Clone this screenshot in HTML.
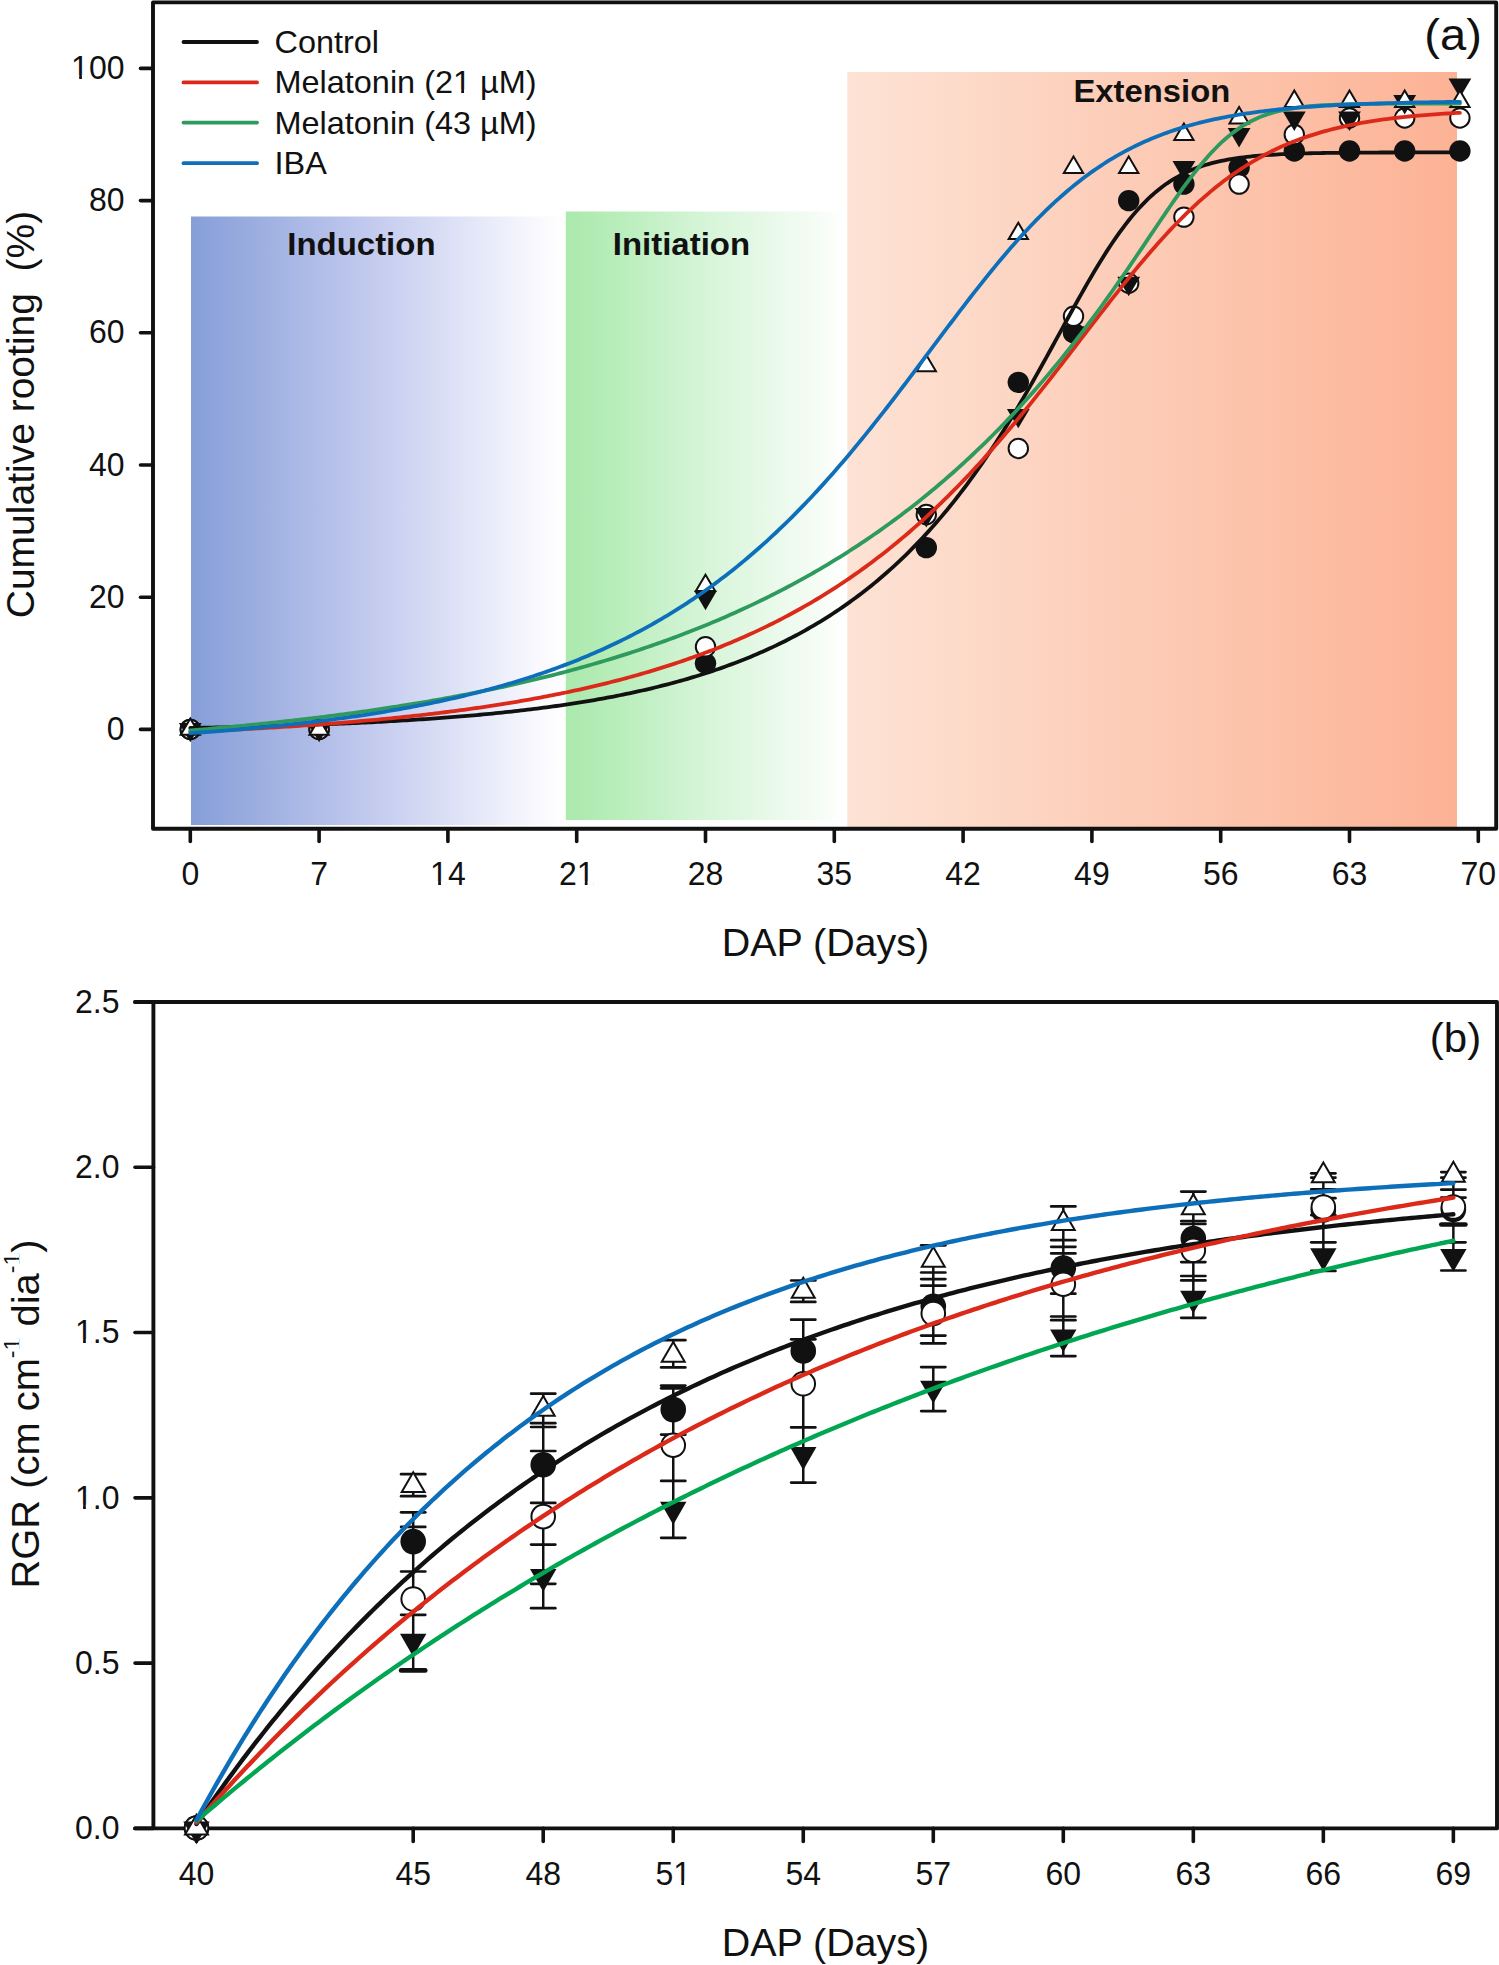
<!DOCTYPE html>
<html><head><meta charset="utf-8"><title>Cumulative rooting and RGR chart</title>
<style>
html,body{margin:0;padding:0;background:#fff;}
body{width:1499px;height:1965px;overflow:hidden;}
svg{display:block;}
text{font-family:"Liberation Sans", sans-serif;fill:#111;}
</style></head><body>
<svg width="1499" height="1965" viewBox="0 0 1499 1965">
<rect width="1499" height="1965" fill="#fff"/>
<defs>
<linearGradient id="gBlue" x1="0" x2="1" y1="0" y2="0"><stop offset="0" stop-color="#869ed8"/><stop offset="0.5" stop-color="#c5ccef"/><stop offset="0.94" stop-color="#fafafe"/><stop offset="1" stop-color="#ffffff"/></linearGradient>
<linearGradient id="gGreen" x1="0" x2="1" y1="0" y2="0"><stop offset="0" stop-color="#abe9ad"/><stop offset="0.12" stop-color="#b3ecb5"/><stop offset="0.5" stop-color="#d6f5d8"/><stop offset="0.9" stop-color="#f5fcf5"/><stop offset="1" stop-color="#ffffff"/></linearGradient>
<linearGradient id="gExt" x1="0" x2="1" y1="0" y2="0"><stop offset="0" stop-color="#fde3d5"/><stop offset="1" stop-color="#fcb295"/></linearGradient>
</defs>
<rect x="191" y="216.5" width="374" height="608.5" fill="url(#gBlue)"/>
<rect x="565.8" y="211.5" width="279" height="608.5" fill="url(#gGreen)"/>
<rect x="847.3" y="72" width="609.7" height="755" fill="url(#gExt)"/>
<g transform="translate(287.30,255.00) scale(1.03,1)"><text font-size="32" font-weight="bold">Induction</text></g>
<g transform="translate(612.80,254.70) scale(1.03,1)"><text font-size="32" font-weight="bold">Initiation</text></g>
<g transform="translate(1073.50,101.70) scale(1.025,1)"><text font-size="32" font-weight="bold">Extension</text></g>
<path d="M153.0,2.4 H1496.2 V828.7 H153.0 Z" fill="none" stroke="#111111" stroke-width="3.9" stroke-linejoin="round"/>
<line x1="140.5" y1="729.40" x2="153.0" y2="729.40" stroke="#111111" stroke-width="3.6" stroke-linecap="round"/>
<g transform="translate(124.50,740.00) scale(0.97,1)"><text text-anchor="end" font-size="33">0</text></g>
<line x1="140.5" y1="597.20" x2="153.0" y2="597.20" stroke="#111111" stroke-width="3.6" stroke-linecap="round"/>
<g transform="translate(124.50,607.80) scale(0.97,1)"><text text-anchor="end" font-size="33">20</text></g>
<line x1="140.5" y1="465.00" x2="153.0" y2="465.00" stroke="#111111" stroke-width="3.6" stroke-linecap="round"/>
<g transform="translate(124.50,475.60) scale(0.97,1)"><text text-anchor="end" font-size="33">40</text></g>
<line x1="140.5" y1="332.80" x2="153.0" y2="332.80" stroke="#111111" stroke-width="3.6" stroke-linecap="round"/>
<g transform="translate(124.50,343.40) scale(0.97,1)"><text text-anchor="end" font-size="33">60</text></g>
<line x1="140.5" y1="200.60" x2="153.0" y2="200.60" stroke="#111111" stroke-width="3.6" stroke-linecap="round"/>
<g transform="translate(124.50,211.20) scale(0.97,1)"><text text-anchor="end" font-size="33">80</text></g>
<line x1="140.5" y1="68.40" x2="153.0" y2="68.40" stroke="#111111" stroke-width="3.6" stroke-linecap="round"/>
<g transform="translate(124.50,79.00) scale(0.97,1)"><text text-anchor="end" font-size="33">100</text><rect x="-53.08" y="-3.96" width="6.35" height="4.62" fill="#fff"/><rect x="-43.87" y="-3.96" width="6.14" height="4.62" fill="#fff"/></g>
<line x1="190.30" y1="828.7" x2="190.30" y2="841.5" stroke="#111111" stroke-width="3.6" stroke-linecap="round"/>
<g transform="translate(190.30,885.30) scale(0.97,1)"><text text-anchor="middle" font-size="33">0</text></g>
<line x1="319.10" y1="828.7" x2="319.10" y2="841.5" stroke="#111111" stroke-width="3.6" stroke-linecap="round"/>
<g transform="translate(319.10,885.30) scale(0.97,1)"><text text-anchor="middle" font-size="33">7</text></g>
<line x1="447.90" y1="828.7" x2="447.90" y2="841.5" stroke="#111111" stroke-width="3.6" stroke-linecap="round"/>
<g transform="translate(447.90,885.30) scale(0.97,1)"><text text-anchor="middle" font-size="33">14</text><rect x="-16.37" y="-3.96" width="6.35" height="4.62" fill="#fff"/><rect x="-7.17" y="-3.96" width="6.14" height="4.62" fill="#fff"/></g>
<line x1="576.70" y1="828.7" x2="576.70" y2="841.5" stroke="#111111" stroke-width="3.6" stroke-linecap="round"/>
<g transform="translate(576.70,885.30) scale(0.97,1)"><text text-anchor="middle" font-size="33">21</text><rect x="1.98" y="-3.96" width="6.35" height="4.62" fill="#fff"/><rect x="11.19" y="-3.96" width="6.14" height="4.62" fill="#fff"/></g>
<line x1="705.50" y1="828.7" x2="705.50" y2="841.5" stroke="#111111" stroke-width="3.6" stroke-linecap="round"/>
<g transform="translate(705.50,885.30) scale(0.97,1)"><text text-anchor="middle" font-size="33">28</text></g>
<line x1="834.30" y1="828.7" x2="834.30" y2="841.5" stroke="#111111" stroke-width="3.6" stroke-linecap="round"/>
<g transform="translate(834.30,885.30) scale(0.97,1)"><text text-anchor="middle" font-size="33">35</text></g>
<line x1="963.10" y1="828.7" x2="963.10" y2="841.5" stroke="#111111" stroke-width="3.6" stroke-linecap="round"/>
<g transform="translate(963.10,885.30) scale(0.97,1)"><text text-anchor="middle" font-size="33">42</text></g>
<line x1="1091.90" y1="828.7" x2="1091.90" y2="841.5" stroke="#111111" stroke-width="3.6" stroke-linecap="round"/>
<g transform="translate(1091.90,885.30) scale(0.97,1)"><text text-anchor="middle" font-size="33">49</text></g>
<line x1="1220.70" y1="828.7" x2="1220.70" y2="841.5" stroke="#111111" stroke-width="3.6" stroke-linecap="round"/>
<g transform="translate(1220.70,885.30) scale(0.97,1)"><text text-anchor="middle" font-size="33">56</text></g>
<line x1="1349.50" y1="828.7" x2="1349.50" y2="841.5" stroke="#111111" stroke-width="3.6" stroke-linecap="round"/>
<g transform="translate(1349.50,885.30) scale(0.97,1)"><text text-anchor="middle" font-size="33">63</text></g>
<line x1="1478.30" y1="828.7" x2="1478.30" y2="841.5" stroke="#111111" stroke-width="3.6" stroke-linecap="round"/>
<g transform="translate(1478.30,885.30) scale(0.97,1)"><text text-anchor="middle" font-size="33">70</text></g>
<g transform="translate(825.40,956.00) scale(1.025,1)"><text text-anchor="middle" font-size="38.5">DAP (Days)</text></g>
<g transform="translate(34.20,414.50) rotate(-90)"><text text-anchor="middle" font-size="39">Cumulative rooting&#160;&#160;(%)</text></g>
<g transform="translate(1424.30,50.00) scale(1.07,1)"><text font-size="44">(a)</text></g>
<line x1="183.5" y1="42.0" x2="257" y2="42.0" stroke="#111111" stroke-width="3.8" stroke-linecap="round"/>
<g transform="translate(274.50,53.00) scale(1.03,1)"><text font-size="31.5">Control</text></g>
<line x1="183.5" y1="82.4" x2="257" y2="82.4" stroke="#dc2a1a" stroke-width="3.8" stroke-linecap="round"/>
<g transform="translate(274.50,93.40) scale(1.03,1)"><text font-size="31.5">Melatonin (21 µM)</text><rect x="175.23" y="-3.78" width="6.06" height="4.41" fill="#fff"/><rect x="184.02" y="-3.78" width="5.86" height="4.41" fill="#fff"/></g>
<line x1="183.5" y1="122.6" x2="257" y2="122.6" stroke="#2f9a5d" stroke-width="3.8" stroke-linecap="round"/>
<g transform="translate(274.50,133.60) scale(1.03,1)"><text font-size="31.5">Melatonin (43 µM)</text></g>
<line x1="183.5" y1="163.2" x2="257" y2="163.2" stroke="#0d6fba" stroke-width="3.8" stroke-linecap="round"/>
<g transform="translate(274.50,174.20) scale(1.03,1)"><text font-size="31.5">IBA</text></g>
<g><circle cx="190.30" cy="729.40" r="10.70" fill="#111111"/><circle cx="319.10" cy="729.40" r="10.70" fill="#111111"/><circle cx="705.50" cy="663.30" r="10.70" fill="#111111"/><circle cx="926.30" cy="547.62" r="10.70" fill="#111111"/><circle cx="1018.30" cy="382.37" r="10.70" fill="#111111"/><circle cx="1073.50" cy="332.80" r="10.70" fill="#111111"/><circle cx="1128.70" cy="200.60" r="10.70" fill="#111111"/><circle cx="1183.90" cy="184.07" r="10.70" fill="#111111"/><circle cx="1239.10" cy="167.55" r="10.70" fill="#111111"/><circle cx="1294.30" cy="151.02" r="10.70" fill="#111111"/><circle cx="1349.50" cy="151.02" r="10.70" fill="#111111"/><circle cx="1404.70" cy="151.02" r="10.70" fill="#111111"/><circle cx="1459.90" cy="151.02" r="10.70" fill="#111111"/><circle cx="190.30" cy="729.40" r="9.70" fill="#fff" stroke="#111111" stroke-width="2.0"/><circle cx="319.10" cy="729.40" r="9.70" fill="#fff" stroke="#111111" stroke-width="2.0"/><circle cx="705.50" cy="646.77" r="9.70" fill="#fff" stroke="#111111" stroke-width="2.0"/><circle cx="926.30" cy="514.57" r="9.70" fill="#fff" stroke="#111111" stroke-width="2.0"/><circle cx="1018.30" cy="448.47" r="9.70" fill="#fff" stroke="#111111" stroke-width="2.0"/><circle cx="1073.50" cy="316.27" r="9.70" fill="#fff" stroke="#111111" stroke-width="2.0"/><circle cx="1128.70" cy="283.22" r="9.70" fill="#fff" stroke="#111111" stroke-width="2.0"/><circle cx="1183.90" cy="217.12" r="9.70" fill="#fff" stroke="#111111" stroke-width="2.0"/><circle cx="1239.10" cy="184.07" r="9.70" fill="#fff" stroke="#111111" stroke-width="2.0"/><circle cx="1294.30" cy="134.50" r="9.70" fill="#fff" stroke="#111111" stroke-width="2.0"/><circle cx="1349.50" cy="117.97" r="9.70" fill="#fff" stroke="#111111" stroke-width="2.0"/><circle cx="1404.70" cy="117.97" r="9.70" fill="#fff" stroke="#111111" stroke-width="2.0"/><circle cx="1459.90" cy="117.97" r="9.70" fill="#fff" stroke="#111111" stroke-width="2.0"/><polygon points="190.30,742.33 201.70,722.93 178.90,722.93" fill="#111111"/><polygon points="319.10,742.33 330.50,722.93 307.70,722.93" fill="#111111"/><polygon points="705.50,610.13 716.90,590.73 694.10,590.73" fill="#111111"/><polygon points="926.30,527.51 937.70,508.11 914.90,508.11" fill="#111111"/><polygon points="1018.30,428.36 1029.70,408.96 1006.90,408.96" fill="#111111"/><polygon points="1073.50,345.73 1084.90,326.33 1062.10,326.33" fill="#111111"/><polygon points="1128.70,296.16 1140.10,276.76 1117.30,276.76" fill="#111111"/><polygon points="1183.90,180.48 1195.30,161.08 1172.50,161.08" fill="#111111"/><polygon points="1239.10,147.43 1250.50,128.03 1227.70,128.03" fill="#111111"/><polygon points="1294.30,130.91 1305.70,111.51 1282.90,111.51" fill="#111111"/><polygon points="1349.50,130.91 1360.90,111.51 1338.10,111.51" fill="#111111"/><polygon points="1404.70,114.38 1416.10,94.98 1393.30,94.98" fill="#111111"/><polygon points="1459.90,97.86 1471.30,78.46 1448.50,78.46" fill="#111111"/><polygon points="190.30,718.44 199.95,734.87 180.65,734.87" fill="#fff" stroke="#111111" stroke-width="2.0" stroke-linejoin="miter" stroke-miterlimit="10"/><polygon points="319.10,718.44 328.75,734.87 309.45,734.87" fill="#fff" stroke="#111111" stroke-width="2.0" stroke-linejoin="miter" stroke-miterlimit="10"/><polygon points="705.50,574.67 715.15,591.10 695.85,591.10" fill="#fff" stroke="#111111" stroke-width="2.0" stroke-linejoin="miter" stroke-miterlimit="10"/><polygon points="926.30,354.89 935.95,371.32 916.65,371.32" fill="#fff" stroke="#111111" stroke-width="2.0" stroke-linejoin="miter" stroke-miterlimit="10"/><polygon points="1018.30,222.69 1027.95,239.12 1008.65,239.12" fill="#fff" stroke="#111111" stroke-width="2.0" stroke-linejoin="miter" stroke-miterlimit="10"/><polygon points="1073.50,156.59 1083.15,173.02 1063.85,173.02" fill="#fff" stroke="#111111" stroke-width="2.0" stroke-linejoin="miter" stroke-miterlimit="10"/><polygon points="1128.70,156.59 1138.35,173.02 1119.05,173.02" fill="#fff" stroke="#111111" stroke-width="2.0" stroke-linejoin="miter" stroke-miterlimit="10"/><polygon points="1183.90,123.54 1193.55,139.97 1174.25,139.97" fill="#fff" stroke="#111111" stroke-width="2.0" stroke-linejoin="miter" stroke-miterlimit="10"/><polygon points="1239.10,107.02 1248.75,123.44 1229.45,123.44" fill="#fff" stroke="#111111" stroke-width="2.0" stroke-linejoin="miter" stroke-miterlimit="10"/><polygon points="1294.30,90.49 1303.95,106.92 1284.65,106.92" fill="#fff" stroke="#111111" stroke-width="2.0" stroke-linejoin="miter" stroke-miterlimit="10"/><polygon points="1349.50,90.49 1359.15,106.92 1339.85,106.92" fill="#fff" stroke="#111111" stroke-width="2.0" stroke-linejoin="miter" stroke-miterlimit="10"/><polygon points="1404.70,90.49 1414.35,106.92 1395.05,106.92" fill="#fff" stroke="#111111" stroke-width="2.0" stroke-linejoin="miter" stroke-miterlimit="10"/><polygon points="1459.90,90.49 1469.55,106.92 1450.25,106.92" fill="#fff" stroke="#111111" stroke-width="2.0" stroke-linejoin="miter" stroke-miterlimit="10"/></g>
<path d="M190.30,728.00 L193.48,727.94 L196.66,727.88 L199.85,727.82 L203.03,727.75 L206.21,727.69 L209.39,727.63 L212.57,727.56 L215.76,727.49 L218.94,727.43 L222.12,727.36 L225.30,727.29 L228.48,727.21 L231.67,727.14 L234.85,727.07 L238.03,726.99 L241.21,726.91 L244.39,726.83 L247.58,726.75 L250.76,726.67 L253.94,726.59 L257.12,726.51 L260.30,726.42 L263.48,726.33 L266.67,726.24 L269.85,726.15 L273.03,726.06 L276.21,725.97 L279.39,725.87 L282.58,725.78 L285.76,725.68 L288.94,725.58 L292.12,725.47 L295.30,725.37 L298.49,725.26 L301.67,725.16 L304.85,725.05 L308.03,724.94 L311.21,724.82 L314.40,724.71 L317.58,724.59 L320.76,724.47 L323.94,724.35 L327.12,724.22 L330.31,724.10 L333.49,723.97 L336.67,723.84 L339.85,723.70 L343.03,723.57 L346.22,723.43 L349.40,723.29 L352.58,723.14 L355.76,723.00 L358.94,722.85 L362.13,722.70 L365.31,722.55 L368.49,722.39 L371.67,722.23 L374.85,722.07 L378.04,721.90 L381.22,721.74 L384.40,721.57 L387.58,721.39 L390.76,721.21 L393.95,721.03 L397.13,720.85 L400.31,720.66 L403.49,720.47 L406.67,720.28 L409.85,720.08 L413.04,719.88 L416.22,719.68 L419.40,719.47 L422.58,719.26 L425.76,719.05 L428.95,718.83 L432.13,718.61 L435.31,718.38 L438.49,718.15 L441.67,717.91 L444.86,717.68 L448.04,717.43 L451.22,717.18 L454.40,716.93 L457.58,716.68 L460.77,716.42 L463.95,716.15 L467.13,715.88 L470.31,715.60 L473.49,715.32 L476.68,715.04 L479.86,714.75 L483.04,714.45 L486.22,714.15 L489.40,713.85 L492.59,713.53 L495.77,713.22 L498.95,712.90 L502.13,712.57 L505.31,712.23 L508.50,711.89 L511.68,711.55 L514.86,711.19 L518.04,710.83 L521.22,710.47 L524.41,710.10 L527.59,709.72 L530.77,709.33 L533.95,708.94 L537.13,708.54 L540.32,708.14 L543.50,707.72 L546.68,707.30 L549.86,706.88 L553.04,706.44 L556.22,706.00 L559.41,705.54 L562.59,705.09 L565.77,704.62 L568.95,704.14 L572.13,703.66 L575.32,703.16 L578.50,702.66 L581.68,702.15 L584.86,701.63 L588.04,701.10 L591.23,700.56 L594.41,700.01 L597.59,699.46 L600.77,698.89 L603.95,698.31 L607.14,697.72 L610.32,697.12 L613.50,696.51 L616.68,695.89 L619.86,695.26 L623.05,694.62 L626.23,693.96 L629.41,693.30 L632.59,692.62 L635.77,691.93 L638.96,691.23 L642.14,690.51 L645.32,689.78 L648.50,689.04 L651.68,688.29 L654.87,687.52 L658.05,686.74 L661.23,685.95 L664.41,685.14 L667.59,684.32 L670.78,683.48 L673.96,682.62 L677.14,681.76 L680.32,680.87 L683.50,679.97 L686.68,679.06 L689.87,678.13 L693.05,677.18 L696.23,676.21 L699.41,675.23 L702.59,674.23 L705.78,673.21 L708.96,672.17 L712.14,671.12 L715.32,670.05 L718.50,668.95 L721.69,667.84 L724.87,666.71 L728.05,665.56 L731.23,664.39 L734.41,663.19 L737.60,661.98 L740.78,660.74 L743.96,659.48 L747.14,658.20 L750.32,656.90 L753.51,655.57 L756.69,654.22 L759.87,652.85 L763.05,651.45 L766.23,650.02 L769.42,648.57 L772.60,647.10 L775.78,645.60 L778.96,644.07 L782.14,642.51 L785.33,640.93 L788.51,639.32 L791.69,637.68 L794.87,636.01 L798.05,634.31 L801.24,632.58 L804.42,630.82 L807.60,629.03 L810.78,627.21 L813.96,625.35 L817.15,623.46 L820.33,621.54 L823.51,619.58 L826.69,617.59 L829.87,615.56 L833.05,613.50 L836.24,611.40 L839.42,609.27 L842.60,607.09 L845.78,604.88 L848.96,602.62 L852.15,600.33 L855.33,598.00 L858.51,595.62 L861.69,593.21 L864.87,590.75 L868.06,588.24 L871.24,585.70 L874.42,583.10 L877.60,580.47 L880.78,577.78 L883.97,575.05 L887.15,572.27 L890.33,569.44 L893.51,566.56 L896.69,563.63 L899.88,560.65 L903.06,557.62 L906.24,554.54 L909.42,551.40 L912.60,548.20 L915.79,544.95 L918.97,541.65 L922.15,538.28 L925.33,534.86 L928.51,531.38 L931.70,527.85 L934.88,524.25 L938.06,520.59 L941.24,516.86 L944.42,513.08 L947.61,509.23 L950.79,505.32 L953.97,501.34 L957.15,497.30 L960.33,493.19 L963.52,489.01 L966.70,484.77 L969.88,480.46 L973.06,476.08 L976.24,471.64 L979.42,467.12 L982.61,462.54 L985.79,457.88 L988.97,453.16 L992.15,448.37 L995.33,443.52 L998.52,438.59 L1001.70,433.60 L1004.88,428.54 L1008.06,423.41 L1011.24,418.23 L1014.43,412.98 L1017.61,407.67 L1020.79,402.30 L1023.97,396.87 L1027.15,391.39 L1030.34,385.86 L1033.52,380.28 L1036.70,374.65 L1039.88,368.98 L1043.06,363.28 L1046.25,357.55 L1049.43,351.79 L1052.61,346.00 L1055.79,340.21 L1058.97,334.40 L1062.16,328.59 L1065.34,322.78 L1068.52,316.99 L1071.70,311.22 L1074.88,305.47 L1078.07,299.76 L1081.25,294.09 L1084.43,288.48 L1087.61,282.92 L1090.79,277.44 L1093.98,272.04 L1097.16,266.72 L1100.34,261.50 L1103.52,256.38 L1106.70,251.38 L1109.88,246.49 L1113.07,241.73 L1116.25,237.11 L1119.43,232.62 L1122.61,228.27 L1125.79,224.07 L1128.98,220.01 L1132.16,216.12 L1135.34,212.37 L1138.52,208.78 L1141.70,205.35 L1144.89,202.07 L1148.07,198.95 L1151.25,195.98 L1154.43,193.16 L1157.61,190.48 L1160.80,187.95 L1163.98,185.56 L1167.16,183.31 L1170.34,181.18 L1173.52,179.19 L1176.71,177.31 L1179.89,175.55 L1183.07,173.90 L1186.25,172.35 L1189.43,170.91 L1192.62,169.56 L1195.80,168.30 L1198.98,167.13 L1202.16,166.04 L1205.34,165.02 L1208.53,164.08 L1211.71,163.20 L1214.89,162.38 L1218.07,161.63 L1221.25,160.92 L1224.44,160.27 L1227.62,159.67 L1230.80,159.11 L1233.98,158.59 L1237.16,158.11 L1240.35,157.67 L1243.53,157.26 L1246.71,156.88 L1249.89,156.53 L1253.07,156.21 L1256.25,155.91 L1259.44,155.64 L1262.62,155.38 L1265.80,155.15 L1268.98,154.93 L1272.16,154.73 L1275.35,154.55 L1278.53,154.38 L1281.71,154.22 L1284.89,154.07 L1288.07,153.94 L1291.26,153.82 L1294.44,153.70 L1297.62,153.60 L1300.80,153.50 L1303.98,153.41 L1307.17,153.33 L1310.35,153.26 L1313.53,153.19 L1316.71,153.12 L1319.89,153.06 L1323.08,153.01 L1326.26,152.96 L1329.44,152.91 L1332.62,152.87 L1335.80,152.83 L1338.99,152.79 L1342.17,152.76 L1345.35,152.73 L1348.53,152.70 L1351.71,152.68 L1354.90,152.65 L1358.08,152.63 L1361.26,152.61 L1364.44,152.59 L1367.62,152.57 L1370.81,152.56 L1373.99,152.54 L1377.17,152.53 L1380.35,152.52 L1383.53,152.51 L1386.72,152.50 L1389.90,152.49 L1393.08,152.48 L1396.26,152.47 L1399.44,152.46 L1402.62,152.45 L1405.81,152.45 L1408.99,152.44 L1412.17,152.44 L1415.35,152.43 L1418.53,152.43 L1421.72,152.42 L1424.90,152.42 L1428.08,152.42 L1431.26,152.41 L1434.44,152.41 L1437.63,152.41 L1440.81,152.40 L1443.99,152.40 L1447.17,152.40 L1450.35,152.40 L1453.54,152.39 L1456.72,152.39 L1459.90,152.39" fill="none" stroke="#111111" stroke-width="3.8" stroke-linecap="round" stroke-linejoin="round"/>
<path d="M190.30,731.70 L193.48,731.56 L196.66,731.43 L199.85,731.29 L203.03,731.14 L206.21,731.00 L209.39,730.86 L212.57,730.71 L215.76,730.56 L218.94,730.41 L222.12,730.26 L225.30,730.10 L228.48,729.94 L231.67,729.78 L234.85,729.62 L238.03,729.46 L241.21,729.29 L244.39,729.12 L247.58,728.95 L250.76,728.78 L253.94,728.60 L257.12,728.42 L260.30,728.24 L263.48,728.06 L266.67,727.88 L269.85,727.69 L273.03,727.50 L276.21,727.31 L279.39,727.11 L282.58,726.91 L285.76,726.71 L288.94,726.51 L292.12,726.30 L295.30,726.09 L298.49,725.88 L301.67,725.66 L304.85,725.45 L308.03,725.23 L311.21,725.00 L314.40,724.78 L317.58,724.55 L320.76,724.31 L323.94,724.08 L327.12,723.84 L330.31,723.59 L333.49,723.35 L336.67,723.10 L339.85,722.85 L343.03,722.59 L346.22,722.33 L349.40,722.07 L352.58,721.80 L355.76,721.53 L358.94,721.25 L362.13,720.98 L365.31,720.70 L368.49,720.41 L371.67,720.12 L374.85,719.83 L378.04,719.53 L381.22,719.23 L384.40,718.92 L387.58,718.61 L390.76,718.30 L393.95,717.98 L397.13,717.66 L400.31,717.33 L403.49,717.00 L406.67,716.66 L409.85,716.32 L413.04,715.98 L416.22,715.63 L419.40,715.28 L422.58,714.92 L425.76,714.55 L428.95,714.18 L432.13,713.81 L435.31,713.43 L438.49,713.04 L441.67,712.66 L444.86,712.26 L448.04,711.86 L451.22,711.45 L454.40,711.04 L457.58,710.63 L460.77,710.20 L463.95,709.77 L467.13,709.34 L470.31,708.90 L473.49,708.45 L476.68,708.00 L479.86,707.54 L483.04,707.08 L486.22,706.61 L489.40,706.13 L492.59,705.65 L495.77,705.16 L498.95,704.66 L502.13,704.16 L505.31,703.65 L508.50,703.13 L511.68,702.60 L514.86,702.07 L518.04,701.53 L521.22,700.99 L524.41,700.43 L527.59,699.87 L530.77,699.30 L533.95,698.73 L537.13,698.14 L540.32,697.55 L543.50,696.95 L546.68,696.34 L549.86,695.72 L553.04,695.10 L556.22,694.46 L559.41,693.82 L562.59,693.17 L565.77,692.51 L568.95,691.84 L572.13,691.16 L575.32,690.48 L578.50,689.78 L581.68,689.07 L584.86,688.36 L588.04,687.63 L591.23,686.90 L594.41,686.15 L597.59,685.40 L600.77,684.63 L603.95,683.85 L607.14,683.07 L610.32,682.27 L613.50,681.46 L616.68,680.64 L619.86,679.81 L623.05,678.97 L626.23,678.12 L629.41,677.25 L632.59,676.38 L635.77,675.49 L638.96,674.59 L642.14,673.68 L645.32,672.75 L648.50,671.81 L651.68,670.86 L654.87,669.90 L658.05,668.92 L661.23,667.94 L664.41,666.93 L667.59,665.92 L670.78,664.89 L673.96,663.84 L677.14,662.78 L680.32,661.71 L683.50,660.63 L686.68,659.52 L689.87,658.41 L693.05,657.28 L696.23,656.13 L699.41,654.97 L702.59,653.79 L705.78,652.59 L708.96,651.38 L712.14,650.16 L715.32,648.91 L718.50,647.65 L721.69,646.38 L724.87,645.08 L728.05,643.77 L731.23,642.44 L734.41,641.10 L737.60,639.73 L740.78,638.35 L743.96,636.95 L747.14,635.53 L750.32,634.09 L753.51,632.63 L756.69,631.15 L759.87,629.65 L763.05,628.13 L766.23,626.59 L769.42,625.03 L772.60,623.45 L775.78,621.85 L778.96,620.23 L782.14,618.58 L785.33,616.92 L788.51,615.23 L791.69,613.52 L794.87,611.79 L798.05,610.03 L801.24,608.25 L804.42,606.45 L807.60,604.62 L810.78,602.77 L813.96,600.90 L817.15,599.00 L820.33,597.07 L823.51,595.12 L826.69,593.15 L829.87,591.15 L833.05,589.12 L836.24,587.07 L839.42,584.99 L842.60,582.88 L845.78,580.75 L848.96,578.59 L852.15,576.40 L855.33,574.18 L858.51,571.94 L861.69,569.66 L864.87,567.36 L868.06,565.03 L871.24,562.67 L874.42,560.28 L877.60,557.86 L880.78,555.41 L883.97,552.93 L887.15,550.41 L890.33,547.87 L893.51,545.30 L896.69,542.69 L899.88,540.05 L903.06,537.38 L906.24,534.68 L909.42,531.95 L912.60,529.19 L915.79,526.39 L918.97,523.56 L922.15,520.69 L925.33,517.79 L928.51,514.86 L931.70,511.90 L934.88,508.90 L938.06,505.87 L941.24,502.81 L944.42,499.71 L947.61,496.58 L950.79,493.41 L953.97,490.21 L957.15,486.98 L960.33,483.71 L963.52,480.41 L966.70,477.08 L969.88,473.71 L973.06,470.31 L976.24,466.88 L979.42,463.41 L982.61,459.91 L985.79,456.38 L988.97,452.82 L992.15,449.22 L995.33,445.60 L998.52,441.94 L1001.70,438.26 L1004.88,434.54 L1008.06,430.80 L1011.24,427.02 L1014.43,423.22 L1017.61,419.40 L1020.79,415.54 L1023.97,411.66 L1027.15,407.76 L1030.34,403.83 L1033.52,399.88 L1036.70,395.90 L1039.88,391.91 L1043.06,387.90 L1046.25,383.87 L1049.43,379.82 L1052.61,375.75 L1055.79,371.68 L1058.97,367.58 L1062.16,363.48 L1065.34,359.37 L1068.52,355.24 L1071.70,351.12 L1074.88,346.98 L1078.07,342.84 L1081.25,338.70 L1084.43,334.56 L1087.61,330.43 L1090.79,326.29 L1093.98,322.16 L1097.16,318.04 L1100.34,313.93 L1103.52,309.83 L1106.70,305.74 L1109.88,301.67 L1113.07,297.62 L1116.25,293.59 L1119.43,289.57 L1122.61,285.58 L1125.79,281.62 L1128.98,277.69 L1132.16,273.78 L1135.34,269.91 L1138.52,266.07 L1141.70,262.26 L1144.89,258.50 L1148.07,254.77 L1151.25,251.08 L1154.43,247.44 L1157.61,243.84 L1160.80,240.28 L1163.98,236.78 L1167.16,233.32 L1170.34,229.91 L1173.52,226.56 L1176.71,223.25 L1179.89,220.01 L1183.07,216.81 L1186.25,213.67 L1189.43,210.59 L1192.62,207.57 L1195.80,204.60 L1198.98,201.69 L1202.16,198.85 L1205.34,196.06 L1208.53,193.33 L1211.71,190.66 L1214.89,188.05 L1218.07,185.50 L1221.25,183.02 L1224.44,180.59 L1227.62,178.22 L1230.80,175.91 L1233.98,173.66 L1237.16,171.47 L1240.35,169.34 L1243.53,167.26 L1246.71,165.25 L1249.89,163.29 L1253.07,161.38 L1256.25,159.53 L1259.44,157.73 L1262.62,155.99 L1265.80,154.30 L1268.98,152.66 L1272.16,151.07 L1275.35,149.53 L1278.53,148.04 L1281.71,146.60 L1284.89,145.21 L1288.07,143.86 L1291.26,142.55 L1294.44,141.29 L1297.62,140.07 L1300.80,138.89 L1303.98,137.75 L1307.17,136.65 L1310.35,135.59 L1313.53,134.57 L1316.71,133.58 L1319.89,132.62 L1323.08,131.70 L1326.26,130.82 L1329.44,129.96 L1332.62,129.14 L1335.80,128.35 L1338.99,127.59 L1342.17,126.85 L1345.35,126.14 L1348.53,125.46 L1351.71,124.80 L1354.90,124.17 L1358.08,123.56 L1361.26,122.98 L1364.44,122.42 L1367.62,121.88 L1370.81,121.36 L1373.99,120.86 L1377.17,120.38 L1380.35,119.92 L1383.53,119.47 L1386.72,119.05 L1389.90,118.64 L1393.08,118.24 L1396.26,117.86 L1399.44,117.50 L1402.62,117.15 L1405.81,116.82 L1408.99,116.49 L1412.17,116.19 L1415.35,115.89 L1418.53,115.60 L1421.72,115.33 L1424.90,115.07 L1428.08,114.82 L1431.26,114.57 L1434.44,114.34 L1437.63,114.12 L1440.81,113.91 L1443.99,113.70 L1447.17,113.50 L1450.35,113.32 L1453.54,113.14 L1456.72,112.96 L1459.90,112.80" fill="none" stroke="#dc2a1a" stroke-width="3.8" stroke-linecap="round" stroke-linejoin="round"/>
<path d="M190.30,730.41 L193.48,730.15 L196.66,729.88 L199.85,729.62 L203.03,729.34 L206.21,729.07 L209.39,728.79 L212.57,728.51 L215.76,728.23 L218.94,727.95 L222.12,727.66 L225.30,727.37 L228.48,727.07 L231.67,726.78 L234.85,726.48 L238.03,726.18 L241.21,725.87 L244.39,725.56 L247.58,725.25 L250.76,724.94 L253.94,724.62 L257.12,724.30 L260.30,723.97 L263.48,723.65 L266.67,723.31 L269.85,722.98 L273.03,722.64 L276.21,722.30 L279.39,721.96 L282.58,721.61 L285.76,721.26 L288.94,720.91 L292.12,720.55 L295.30,720.19 L298.49,719.82 L301.67,719.45 L304.85,719.08 L308.03,718.70 L311.21,718.32 L314.40,717.94 L317.58,717.55 L320.76,717.16 L323.94,716.77 L327.12,716.37 L330.31,715.96 L333.49,715.56 L336.67,715.15 L339.85,714.73 L343.03,714.31 L346.22,713.89 L349.40,713.46 L352.58,713.03 L355.76,712.59 L358.94,712.15 L362.13,711.71 L365.31,711.26 L368.49,710.80 L371.67,710.34 L374.85,709.88 L378.04,709.41 L381.22,708.94 L384.40,708.46 L387.58,707.98 L390.76,707.49 L393.95,707.00 L397.13,706.51 L400.31,706.00 L403.49,705.50 L406.67,704.99 L409.85,704.47 L413.04,703.95 L416.22,703.42 L419.40,702.89 L422.58,702.35 L425.76,701.81 L428.95,701.26 L432.13,700.71 L435.31,700.15 L438.49,699.58 L441.67,699.01 L444.86,698.44 L448.04,697.86 L451.22,697.27 L454.40,696.68 L457.58,696.08 L460.77,695.47 L463.95,694.86 L467.13,694.24 L470.31,693.62 L473.49,692.99 L476.68,692.35 L479.86,691.71 L483.04,691.06 L486.22,690.41 L489.40,689.75 L492.59,689.08 L495.77,688.40 L498.95,687.72 L502.13,687.03 L505.31,686.34 L508.50,685.64 L511.68,684.93 L514.86,684.21 L518.04,683.49 L521.22,682.76 L524.41,682.02 L527.59,681.27 L530.77,680.52 L533.95,679.76 L537.13,678.99 L540.32,678.22 L543.50,677.43 L546.68,676.64 L549.86,675.84 L553.04,675.04 L556.22,674.22 L559.41,673.40 L562.59,672.57 L565.77,671.73 L568.95,670.88 L572.13,670.03 L575.32,669.16 L578.50,668.29 L581.68,667.41 L584.86,666.52 L588.04,665.62 L591.23,664.71 L594.41,663.79 L597.59,662.86 L600.77,661.93 L603.95,660.98 L607.14,660.03 L610.32,659.06 L613.50,658.09 L616.68,657.11 L619.86,656.11 L623.05,655.11 L626.23,654.10 L629.41,653.07 L632.59,652.04 L635.77,651.00 L638.96,649.94 L642.14,648.88 L645.32,647.80 L648.50,646.72 L651.68,645.62 L654.87,644.51 L658.05,643.39 L661.23,642.26 L664.41,641.12 L667.59,639.97 L670.78,638.81 L673.96,637.63 L677.14,636.44 L680.32,635.24 L683.50,634.03 L686.68,632.81 L689.87,631.57 L693.05,630.33 L696.23,629.07 L699.41,627.79 L702.59,626.51 L705.78,625.21 L708.96,623.90 L712.14,622.58 L715.32,621.24 L718.50,619.89 L721.69,618.53 L724.87,617.15 L728.05,615.76 L731.23,614.35 L734.41,612.93 L737.60,611.50 L740.78,610.05 L743.96,608.59 L747.14,607.11 L750.32,605.62 L753.51,604.12 L756.69,602.60 L759.87,601.06 L763.05,599.51 L766.23,597.94 L769.42,596.36 L772.60,594.76 L775.78,593.15 L778.96,591.52 L782.14,589.87 L785.33,588.21 L788.51,586.53 L791.69,584.83 L794.87,583.12 L798.05,581.39 L801.24,579.64 L804.42,577.88 L807.60,576.09 L810.78,574.29 L813.96,572.48 L817.15,570.64 L820.33,568.79 L823.51,566.91 L826.69,565.02 L829.87,563.11 L833.05,561.18 L836.24,559.23 L839.42,557.27 L842.60,555.28 L845.78,553.27 L848.96,551.24 L852.15,549.20 L855.33,547.13 L858.51,545.04 L861.69,542.93 L864.87,540.80 L868.06,538.65 L871.24,536.48 L874.42,534.28 L877.60,532.07 L880.78,529.83 L883.97,527.57 L887.15,525.28 L890.33,522.98 L893.51,520.65 L896.69,518.30 L899.88,515.92 L903.06,513.52 L906.24,511.10 L909.42,508.65 L912.60,506.18 L915.79,503.68 L918.97,501.16 L922.15,498.62 L925.33,496.04 L928.51,493.45 L931.70,490.82 L934.88,488.18 L938.06,485.50 L941.24,482.80 L944.42,480.07 L947.61,477.31 L950.79,474.53 L953.97,471.72 L957.15,468.88 L960.33,466.01 L963.52,463.12 L966.70,460.19 L969.88,457.24 L973.06,454.26 L976.24,451.24 L979.42,448.20 L982.61,445.13 L985.79,442.02 L988.97,438.89 L992.15,435.73 L995.33,432.53 L998.52,429.30 L1001.70,426.04 L1004.88,422.75 L1008.06,419.42 L1011.24,416.07 L1014.43,412.68 L1017.61,409.25 L1020.79,405.79 L1023.97,402.30 L1027.15,398.78 L1030.34,395.22 L1033.52,391.62 L1036.70,387.99 L1039.88,384.33 L1043.06,380.62 L1046.25,376.89 L1049.43,373.11 L1052.61,369.30 L1055.79,365.46 L1058.97,361.58 L1062.16,357.66 L1065.34,353.70 L1068.52,349.71 L1071.70,345.68 L1074.88,341.61 L1078.07,337.51 L1081.25,333.37 L1084.43,329.19 L1087.61,324.97 L1090.79,320.72 L1093.98,316.43 L1097.16,312.11 L1100.34,307.75 L1103.52,303.36 L1106.70,298.93 L1109.88,294.47 L1113.07,289.98 L1116.25,285.45 L1119.43,280.90 L1122.61,276.32 L1125.79,271.71 L1128.98,267.07 L1132.16,262.42 L1135.34,257.74 L1138.52,253.05 L1141.70,248.34 L1144.89,243.62 L1148.07,238.90 L1151.25,234.17 L1154.43,229.44 L1157.61,224.72 L1160.80,220.02 L1163.98,215.33 L1167.16,210.67 L1170.34,206.03 L1173.52,201.44 L1176.71,196.89 L1179.89,192.40 L1183.07,187.97 L1186.25,183.61 L1189.43,179.33 L1192.62,175.14 L1195.80,171.04 L1198.98,167.05 L1202.16,163.18 L1205.34,159.42 L1208.53,155.79 L1211.71,152.29 L1214.89,148.94 L1218.07,145.72 L1221.25,142.66 L1224.44,139.74 L1227.62,136.98 L1230.80,134.37 L1233.98,131.91 L1237.16,129.60 L1240.35,127.44 L1243.53,125.42 L1246.71,123.54 L1249.89,121.79 L1253.07,120.18 L1256.25,118.68 L1259.44,117.31 L1262.62,116.04 L1265.80,114.88 L1268.98,113.81 L1272.16,112.84 L1275.35,111.95 L1278.53,111.14 L1281.71,110.40 L1284.89,109.73 L1288.07,109.12 L1291.26,108.57 L1294.44,108.07 L1297.62,107.62 L1300.80,107.21 L1303.98,106.84 L1307.17,106.50 L1310.35,106.20 L1313.53,105.93 L1316.71,105.68 L1319.89,105.46 L1323.08,105.26 L1326.26,105.08 L1329.44,104.92 L1332.62,104.78 L1335.80,104.65 L1338.99,104.53 L1342.17,104.42 L1345.35,104.33 L1348.53,104.24 L1351.71,104.17 L1354.90,104.10 L1358.08,104.03 L1361.26,103.98 L1364.44,103.93 L1367.62,103.88 L1370.81,103.84 L1373.99,103.81 L1377.17,103.78 L1380.35,103.75 L1383.53,103.72 L1386.72,103.70 L1389.90,103.68 L1393.08,103.66 L1396.26,103.64 L1399.44,103.62 L1402.62,103.61 L1405.81,103.60 L1408.99,103.59 L1412.17,103.58 L1415.35,103.57 L1418.53,103.56 L1421.72,103.55 L1424.90,103.55 L1428.08,103.54 L1431.26,103.54 L1434.44,103.53 L1437.63,103.53 L1440.81,103.52 L1443.99,103.52 L1447.17,103.52 L1450.35,103.51 L1453.54,103.51 L1456.72,103.51 L1459.90,103.51" fill="none" stroke="#2f9a5d" stroke-width="3.8" stroke-linecap="round" stroke-linejoin="round"/>
<path d="M190.30,733.16 L193.48,732.94 L196.66,732.72 L199.85,732.50 L203.03,732.27 L206.21,732.04 L209.39,731.80 L212.57,731.56 L215.76,731.32 L218.94,731.07 L222.12,730.83 L225.30,730.57 L228.48,730.32 L231.67,730.06 L234.85,729.79 L238.03,729.52 L241.21,729.25 L244.39,728.97 L247.58,728.69 L250.76,728.41 L253.94,728.12 L257.12,727.83 L260.30,727.53 L263.48,727.23 L266.67,726.92 L269.85,726.61 L273.03,726.30 L276.21,725.98 L279.39,725.65 L282.58,725.33 L285.76,724.99 L288.94,724.65 L292.12,724.31 L295.30,723.96 L298.49,723.60 L301.67,723.25 L304.85,722.88 L308.03,722.51 L311.21,722.13 L314.40,721.75 L317.58,721.37 L320.76,720.97 L323.94,720.58 L327.12,720.17 L330.31,719.76 L333.49,719.35 L336.67,718.92 L339.85,718.49 L343.03,718.06 L346.22,717.62 L349.40,717.17 L352.58,716.72 L355.76,716.25 L358.94,715.79 L362.13,715.31 L365.31,714.83 L368.49,714.34 L371.67,713.84 L374.85,713.34 L378.04,712.83 L381.22,712.31 L384.40,711.79 L387.58,711.25 L390.76,710.71 L393.95,710.16 L397.13,709.60 L400.31,709.04 L403.49,708.46 L406.67,707.88 L409.85,707.29 L413.04,706.69 L416.22,706.08 L419.40,705.46 L422.58,704.83 L425.76,704.20 L428.95,703.55 L432.13,702.90 L435.31,702.23 L438.49,701.56 L441.67,700.87 L444.86,700.18 L448.04,699.47 L451.22,698.76 L454.40,698.03 L457.58,697.29 L460.77,696.55 L463.95,695.79 L467.13,695.02 L470.31,694.24 L473.49,693.45 L476.68,692.64 L479.86,691.83 L483.04,691.00 L486.22,690.16 L489.40,689.31 L492.59,688.44 L495.77,687.56 L498.95,686.67 L502.13,685.77 L505.31,684.85 L508.50,683.92 L511.68,682.98 L514.86,682.02 L518.04,681.05 L521.22,680.06 L524.41,679.06 L527.59,678.05 L530.77,677.02 L533.95,675.98 L537.13,674.92 L540.32,673.84 L543.50,672.75 L546.68,671.64 L549.86,670.52 L553.04,669.38 L556.22,668.22 L559.41,667.05 L562.59,665.86 L565.77,664.65 L568.95,663.43 L572.13,662.18 L575.32,660.92 L578.50,659.64 L581.68,658.34 L584.86,657.03 L588.04,655.69 L591.23,654.34 L594.41,652.96 L597.59,651.57 L600.77,650.15 L603.95,648.72 L607.14,647.26 L610.32,645.79 L613.50,644.29 L616.68,642.77 L619.86,641.23 L623.05,639.66 L626.23,638.08 L629.41,636.47 L632.59,634.84 L635.77,633.18 L638.96,631.51 L642.14,629.80 L645.32,628.08 L648.50,626.33 L651.68,624.55 L654.87,622.75 L658.05,620.92 L661.23,619.07 L664.41,617.19 L667.59,615.29 L670.78,613.36 L673.96,611.40 L677.14,609.42 L680.32,607.41 L683.50,605.37 L686.68,603.30 L689.87,601.20 L693.05,599.07 L696.23,596.92 L699.41,594.73 L702.59,592.52 L705.78,590.28 L708.96,588.00 L712.14,585.70 L715.32,583.36 L718.50,580.99 L721.69,578.59 L724.87,576.16 L728.05,573.70 L731.23,571.21 L734.41,568.68 L737.60,566.12 L740.78,563.52 L743.96,560.90 L747.14,558.24 L750.32,555.54 L753.51,552.81 L756.69,550.05 L759.87,547.25 L763.05,544.42 L766.23,541.55 L769.42,538.65 L772.60,535.71 L775.78,532.74 L778.96,529.73 L782.14,526.69 L785.33,523.61 L788.51,520.49 L791.69,517.34 L794.87,514.16 L798.05,510.94 L801.24,507.68 L804.42,504.39 L807.60,501.06 L810.78,497.69 L813.96,494.29 L817.15,490.86 L820.33,487.39 L823.51,483.89 L826.69,480.35 L829.87,476.78 L833.05,473.17 L836.24,469.53 L839.42,465.86 L842.60,462.15 L845.78,458.42 L848.96,454.65 L852.15,450.85 L855.33,447.02 L858.51,443.16 L861.69,439.27 L864.87,435.35 L868.06,431.41 L871.24,427.44 L874.42,423.44 L877.60,419.42 L880.78,415.37 L883.97,411.31 L887.15,407.22 L890.33,403.11 L893.51,398.98 L896.69,394.83 L899.88,390.67 L903.06,386.49 L906.24,382.29 L909.42,378.09 L912.60,373.87 L915.79,369.65 L918.97,365.41 L922.15,361.17 L925.33,356.93 L928.51,352.68 L931.70,348.43 L934.88,344.18 L938.06,339.94 L941.24,335.70 L944.42,331.46 L947.61,327.23 L950.79,323.02 L953.97,318.81 L957.15,314.62 L960.33,310.45 L963.52,306.29 L966.70,302.15 L969.88,298.03 L973.06,293.94 L976.24,289.87 L979.42,285.83 L982.61,281.82 L985.79,277.84 L988.97,273.89 L992.15,269.98 L995.33,266.10 L998.52,262.26 L1001.70,258.47 L1004.88,254.71 L1008.06,250.99 L1011.24,247.32 L1014.43,243.69 L1017.61,240.11 L1020.79,236.58 L1023.97,233.10 L1027.15,229.67 L1030.34,226.29 L1033.52,222.96 L1036.70,219.69 L1039.88,216.47 L1043.06,213.30 L1046.25,210.19 L1049.43,207.14 L1052.61,204.14 L1055.79,201.20 L1058.97,198.32 L1062.16,195.49 L1065.34,192.72 L1068.52,190.01 L1071.70,187.36 L1074.88,184.77 L1078.07,182.23 L1081.25,179.75 L1084.43,177.33 L1087.61,174.97 L1090.79,172.66 L1093.98,170.41 L1097.16,168.22 L1100.34,166.08 L1103.52,163.99 L1106.70,161.96 L1109.88,159.98 L1113.07,158.06 L1116.25,156.18 L1119.43,154.36 L1122.61,152.59 L1125.79,150.87 L1128.98,149.20 L1132.16,147.58 L1135.34,146.00 L1138.52,144.47 L1141.70,142.98 L1144.89,141.54 L1148.07,140.15 L1151.25,138.79 L1154.43,137.48 L1157.61,136.21 L1160.80,134.97 L1163.98,133.78 L1167.16,132.63 L1170.34,131.51 L1173.52,130.42 L1176.71,129.38 L1179.89,128.36 L1183.07,127.38 L1186.25,126.43 L1189.43,125.52 L1192.62,124.63 L1195.80,123.78 L1198.98,122.95 L1202.16,122.15 L1205.34,121.38 L1208.53,120.63 L1211.71,119.91 L1214.89,119.22 L1218.07,118.55 L1221.25,117.90 L1224.44,117.27 L1227.62,116.67 L1230.80,116.09 L1233.98,115.53 L1237.16,114.99 L1240.35,114.47 L1243.53,113.96 L1246.71,113.48 L1249.89,113.01 L1253.07,112.56 L1256.25,112.12 L1259.44,111.70 L1262.62,111.30 L1265.80,110.91 L1268.98,110.53 L1272.16,110.17 L1275.35,109.82 L1278.53,109.49 L1281.71,109.17 L1284.89,108.85 L1288.07,108.55 L1291.26,108.27 L1294.44,107.99 L1297.62,107.72 L1300.80,107.46 L1303.98,107.21 L1307.17,106.97 L1310.35,106.74 L1313.53,106.52 L1316.71,106.31 L1319.89,106.10 L1323.08,105.91 L1326.26,105.72 L1329.44,105.53 L1332.62,105.36 L1335.80,105.19 L1338.99,105.02 L1342.17,104.87 L1345.35,104.71 L1348.53,104.57 L1351.71,104.43 L1354.90,104.29 L1358.08,104.17 L1361.26,104.04 L1364.44,103.92 L1367.62,103.80 L1370.81,103.69 L1373.99,103.59 L1377.17,103.48 L1380.35,103.39 L1383.53,103.29 L1386.72,103.20 L1389.90,103.11 L1393.08,103.03 L1396.26,102.94 L1399.44,102.87 L1402.62,102.79 L1405.81,102.72 L1408.99,102.65 L1412.17,102.58 L1415.35,102.52 L1418.53,102.45 L1421.72,102.39 L1424.90,102.34 L1428.08,102.28 L1431.26,102.23 L1434.44,102.18 L1437.63,102.13 L1440.81,102.08 L1443.99,102.04 L1447.17,101.99 L1450.35,101.95 L1453.54,101.91 L1456.72,101.87 L1459.90,101.83" fill="none" stroke="#0d6fba" stroke-width="3.8" stroke-linecap="round" stroke-linejoin="round"/>
<path d="M135,1002.0 H1497.0 V1828.4 H135" fill="none" stroke="#111111" stroke-width="3.9" stroke-linecap="round" stroke-linejoin="round"/>
<line x1="153.4" y1="1002.0" x2="153.4" y2="1828.4" stroke="#111111" stroke-width="3.9"/>
<line x1="135" y1="1828.40" x2="153.4" y2="1828.40" stroke="#111111" stroke-width="3.6" stroke-linecap="round"/>
<g transform="translate(119.50,1839.20) scale(0.97,1)"><text text-anchor="end" font-size="33">0.0</text></g>
<line x1="135" y1="1663.12" x2="153.4" y2="1663.12" stroke="#111111" stroke-width="3.6" stroke-linecap="round"/>
<g transform="translate(119.50,1673.92) scale(0.97,1)"><text text-anchor="end" font-size="33">0.5</text></g>
<line x1="135" y1="1497.84" x2="153.4" y2="1497.84" stroke="#111111" stroke-width="3.6" stroke-linecap="round"/>
<g transform="translate(119.50,1508.64) scale(0.97,1)"><text text-anchor="end" font-size="33">1.0</text><rect x="-43.89" y="-3.96" width="6.35" height="4.62" fill="#fff"/><rect x="-34.69" y="-3.96" width="6.14" height="4.62" fill="#fff"/></g>
<line x1="135" y1="1332.56" x2="153.4" y2="1332.56" stroke="#111111" stroke-width="3.6" stroke-linecap="round"/>
<g transform="translate(119.50,1343.36) scale(0.97,1)"><text text-anchor="end" font-size="33">1.5</text><rect x="-43.89" y="-3.96" width="6.35" height="4.62" fill="#fff"/><rect x="-34.69" y="-3.96" width="6.14" height="4.62" fill="#fff"/></g>
<line x1="135" y1="1167.28" x2="153.4" y2="1167.28" stroke="#111111" stroke-width="3.6" stroke-linecap="round"/>
<g transform="translate(119.50,1178.08) scale(0.97,1)"><text text-anchor="end" font-size="33">2.0</text></g>
<line x1="135" y1="1002.00" x2="153.4" y2="1002.00" stroke="#111111" stroke-width="3.6" stroke-linecap="round"/>
<g transform="translate(119.50,1012.80) scale(0.97,1)"><text text-anchor="end" font-size="33">2.5</text></g>
<line x1="196.50" y1="1828.4" x2="196.50" y2="1841.4" stroke="#111111" stroke-width="3.6" stroke-linecap="round"/>
<g transform="translate(196.50,1884.80) scale(0.97,1)"><text text-anchor="middle" font-size="33">40</text></g>
<line x1="413.20" y1="1828.4" x2="413.20" y2="1841.4" stroke="#111111" stroke-width="3.6" stroke-linecap="round"/>
<g transform="translate(413.20,1884.80) scale(0.97,1)"><text text-anchor="middle" font-size="33">45</text></g>
<line x1="543.22" y1="1828.4" x2="543.22" y2="1841.4" stroke="#111111" stroke-width="3.6" stroke-linecap="round"/>
<g transform="translate(543.22,1884.80) scale(0.97,1)"><text text-anchor="middle" font-size="33">48</text></g>
<line x1="673.24" y1="1828.4" x2="673.24" y2="1841.4" stroke="#111111" stroke-width="3.6" stroke-linecap="round"/>
<g transform="translate(673.24,1884.80) scale(0.97,1)"><text text-anchor="middle" font-size="33">51</text><rect x="1.98" y="-3.96" width="6.35" height="4.62" fill="#fff"/><rect x="11.19" y="-3.96" width="6.14" height="4.62" fill="#fff"/></g>
<line x1="803.26" y1="1828.4" x2="803.26" y2="1841.4" stroke="#111111" stroke-width="3.6" stroke-linecap="round"/>
<g transform="translate(803.26,1884.80) scale(0.97,1)"><text text-anchor="middle" font-size="33">54</text></g>
<line x1="933.28" y1="1828.4" x2="933.28" y2="1841.4" stroke="#111111" stroke-width="3.6" stroke-linecap="round"/>
<g transform="translate(933.28,1884.80) scale(0.97,1)"><text text-anchor="middle" font-size="33">57</text></g>
<line x1="1063.30" y1="1828.4" x2="1063.30" y2="1841.4" stroke="#111111" stroke-width="3.6" stroke-linecap="round"/>
<g transform="translate(1063.30,1884.80) scale(0.97,1)"><text text-anchor="middle" font-size="33">60</text></g>
<line x1="1193.32" y1="1828.4" x2="1193.32" y2="1841.4" stroke="#111111" stroke-width="3.6" stroke-linecap="round"/>
<g transform="translate(1193.32,1884.80) scale(0.97,1)"><text text-anchor="middle" font-size="33">63</text></g>
<line x1="1323.34" y1="1828.4" x2="1323.34" y2="1841.4" stroke="#111111" stroke-width="3.6" stroke-linecap="round"/>
<g transform="translate(1323.34,1884.80) scale(0.97,1)"><text text-anchor="middle" font-size="33">66</text></g>
<line x1="1453.36" y1="1828.4" x2="1453.36" y2="1841.4" stroke="#111111" stroke-width="3.6" stroke-linecap="round"/>
<g transform="translate(1453.36,1884.80) scale(0.97,1)"><text text-anchor="middle" font-size="33">69</text></g>
<g transform="translate(825.40,1956.10) scale(1.025,1)"><text text-anchor="middle" font-size="38.5">DAP (Days)</text></g>
<g transform="translate(38.60,1414.00) rotate(-90) scale(1.05,1)"><text text-anchor="middle" font-size="38">RGR (cm cm<tspan dy="-20" font-size="22">-1</tspan><tspan dy="20"> dia</tspan><tspan dy="-20" font-size="22">-1</tspan><tspan dy="20">)</tspan></text><rect x="61.88" y="-22.64" width="4.24" height="3.08" fill="#fff"/><rect x="68.02" y="-22.64" width="4.09" height="3.08" fill="#fff"/><rect x="142.71" y="-22.64" width="4.24" height="3.08" fill="#fff"/><rect x="148.85" y="-22.64" width="4.09" height="3.08" fill="#fff"/></g>
<g transform="translate(1429.80,1051.80) scale(1.05,1)"><text font-size="40">(b)</text></g>
<g><line x1="413.20" y1="1474.2" x2="413.20" y2="1496.2" stroke="#111111" stroke-width="2.5"/><line x1="413.20" y1="1512.3" x2="413.20" y2="1670.4" stroke="#111111" stroke-width="2.5"/><line x1="401.10" y1="1474.2" x2="425.30" y2="1474.2" stroke="#111111" stroke-width="2.7" stroke-linecap="round"/><line x1="401.10" y1="1496.2" x2="425.30" y2="1496.2" stroke="#111111" stroke-width="2.7" stroke-linecap="round"/><line x1="401.10" y1="1512.3" x2="425.30" y2="1512.3" stroke="#111111" stroke-width="2.7" stroke-linecap="round"/><line x1="401.10" y1="1526.9" x2="425.30" y2="1526.9" stroke="#111111" stroke-width="2.7" stroke-linecap="round"/><line x1="401.10" y1="1571.5" x2="425.30" y2="1571.5" stroke="#111111" stroke-width="2.7" stroke-linecap="round"/><line x1="401.10" y1="1614.8" x2="425.30" y2="1614.8" stroke="#111111" stroke-width="2.7" stroke-linecap="round"/><line x1="401.10" y1="1670.4" x2="425.30" y2="1670.4" stroke="#111111" stroke-width="4.6" stroke-linecap="round"/><line x1="543.22" y1="1393.7" x2="543.22" y2="1608.2" stroke="#111111" stroke-width="2.5"/><line x1="531.12" y1="1393.7" x2="555.32" y2="1393.7" stroke="#111111" stroke-width="2.7" stroke-linecap="round"/><line x1="531.12" y1="1423.2" x2="555.32" y2="1423.2" stroke="#111111" stroke-width="2.7" stroke-linecap="round"/><line x1="531.12" y1="1427.0" x2="555.32" y2="1427.0" stroke="#111111" stroke-width="2.7" stroke-linecap="round"/><line x1="531.12" y1="1451.0" x2="555.32" y2="1451.0" stroke="#111111" stroke-width="2.7" stroke-linecap="round"/><line x1="531.12" y1="1502.9" x2="555.32" y2="1502.9" stroke="#111111" stroke-width="2.7" stroke-linecap="round"/><line x1="531.12" y1="1544.6" x2="555.32" y2="1544.6" stroke="#111111" stroke-width="2.7" stroke-linecap="round"/><line x1="531.12" y1="1583.8" x2="555.32" y2="1583.8" stroke="#111111" stroke-width="2.7" stroke-linecap="round"/><line x1="531.12" y1="1608.2" x2="555.32" y2="1608.2" stroke="#111111" stroke-width="2.7" stroke-linecap="round"/><line x1="673.24" y1="1340.2" x2="673.24" y2="1367.4" stroke="#111111" stroke-width="2.5"/><line x1="673.24" y1="1385.6" x2="673.24" y2="1537.8" stroke="#111111" stroke-width="2.5"/><line x1="661.14" y1="1340.2" x2="685.34" y2="1340.2" stroke="#111111" stroke-width="2.7" stroke-linecap="round"/><line x1="661.14" y1="1367.4" x2="685.34" y2="1367.4" stroke="#111111" stroke-width="2.7" stroke-linecap="round"/><line x1="661.14" y1="1385.6" x2="685.34" y2="1385.6" stroke="#111111" stroke-width="2.7" stroke-linecap="round"/><line x1="661.14" y1="1388.3" x2="685.34" y2="1388.3" stroke="#111111" stroke-width="2.7" stroke-linecap="round"/><line x1="661.14" y1="1434.6" x2="685.34" y2="1434.6" stroke="#111111" stroke-width="2.7" stroke-linecap="round"/><line x1="661.14" y1="1480.9" x2="685.34" y2="1480.9" stroke="#111111" stroke-width="2.7" stroke-linecap="round"/><line x1="661.14" y1="1537.8" x2="685.34" y2="1537.8" stroke="#111111" stroke-width="2.7" stroke-linecap="round"/><line x1="803.26" y1="1280.5" x2="803.26" y2="1301.9" stroke="#111111" stroke-width="2.5"/><line x1="803.26" y1="1319.7" x2="803.26" y2="1482.6" stroke="#111111" stroke-width="2.5"/><line x1="791.16" y1="1280.5" x2="815.36" y2="1280.5" stroke="#111111" stroke-width="2.7" stroke-linecap="round"/><line x1="791.16" y1="1301.9" x2="815.36" y2="1301.9" stroke="#111111" stroke-width="2.7" stroke-linecap="round"/><line x1="791.16" y1="1319.7" x2="815.36" y2="1319.7" stroke="#111111" stroke-width="2.7" stroke-linecap="round"/><line x1="791.16" y1="1339.3" x2="815.36" y2="1339.3" stroke="#111111" stroke-width="2.7" stroke-linecap="round"/><line x1="791.16" y1="1427.4" x2="815.36" y2="1427.4" stroke="#111111" stroke-width="2.7" stroke-linecap="round"/><line x1="791.16" y1="1482.6" x2="815.36" y2="1482.6" stroke="#111111" stroke-width="2.7" stroke-linecap="round"/><line x1="933.28" y1="1245.3" x2="933.28" y2="1343.3" stroke="#111111" stroke-width="2.5"/><line x1="933.28" y1="1367.1" x2="933.28" y2="1411.1" stroke="#111111" stroke-width="2.5"/><line x1="921.18" y1="1245.3" x2="945.38" y2="1245.3" stroke="#111111" stroke-width="2.7" stroke-linecap="round"/><line x1="921.18" y1="1272.5" x2="945.38" y2="1272.5" stroke="#111111" stroke-width="2.7" stroke-linecap="round"/><line x1="921.18" y1="1279.1" x2="945.38" y2="1279.1" stroke="#111111" stroke-width="2.7" stroke-linecap="round"/><line x1="921.18" y1="1285.7" x2="945.38" y2="1285.7" stroke="#111111" stroke-width="2.7" stroke-linecap="round"/><line x1="921.18" y1="1335.6" x2="945.38" y2="1335.6" stroke="#111111" stroke-width="2.7" stroke-linecap="round"/><line x1="921.18" y1="1343.3" x2="945.38" y2="1343.3" stroke="#111111" stroke-width="2.7" stroke-linecap="round"/><line x1="921.18" y1="1367.1" x2="945.38" y2="1367.1" stroke="#111111" stroke-width="2.7" stroke-linecap="round"/><line x1="921.18" y1="1411.1" x2="945.38" y2="1411.1" stroke="#111111" stroke-width="2.7" stroke-linecap="round"/><line x1="1063.30" y1="1206.4" x2="1063.30" y2="1356.1" stroke="#111111" stroke-width="2.5"/><line x1="1051.20" y1="1206.4" x2="1075.40" y2="1206.4" stroke="#111111" stroke-width="2.7" stroke-linecap="round"/><line x1="1051.20" y1="1240.2" x2="1075.40" y2="1240.2" stroke="#111111" stroke-width="2.7" stroke-linecap="round"/><line x1="1051.20" y1="1246.8" x2="1075.40" y2="1246.8" stroke="#111111" stroke-width="2.7" stroke-linecap="round"/><line x1="1051.20" y1="1253.4" x2="1075.40" y2="1253.4" stroke="#111111" stroke-width="2.7" stroke-linecap="round"/><line x1="1051.20" y1="1293.7" x2="1075.40" y2="1293.7" stroke="#111111" stroke-width="2.7" stroke-linecap="round"/><line x1="1051.20" y1="1316.5" x2="1075.40" y2="1316.5" stroke="#111111" stroke-width="2.7" stroke-linecap="round"/><line x1="1051.20" y1="1320.2" x2="1075.40" y2="1320.2" stroke="#111111" stroke-width="2.7" stroke-linecap="round"/><line x1="1051.20" y1="1356.1" x2="1075.40" y2="1356.1" stroke="#111111" stroke-width="2.7" stroke-linecap="round"/><line x1="1193.32" y1="1191.6" x2="1193.32" y2="1317.8" stroke="#111111" stroke-width="2.5"/><line x1="1181.22" y1="1191.6" x2="1205.42" y2="1191.6" stroke="#111111" stroke-width="2.7" stroke-linecap="round"/><line x1="1181.22" y1="1221.0" x2="1205.42" y2="1221.0" stroke="#111111" stroke-width="2.7" stroke-linecap="round"/><line x1="1181.22" y1="1223.9" x2="1205.42" y2="1223.9" stroke="#111111" stroke-width="2.7" stroke-linecap="round"/><line x1="1181.22" y1="1262.1" x2="1205.42" y2="1262.1" stroke="#111111" stroke-width="2.7" stroke-linecap="round"/><line x1="1181.22" y1="1276.0" x2="1205.42" y2="1276.0" stroke="#111111" stroke-width="2.7" stroke-linecap="round"/><line x1="1181.22" y1="1280.4" x2="1205.42" y2="1280.4" stroke="#111111" stroke-width="2.7" stroke-linecap="round"/><line x1="1181.22" y1="1317.8" x2="1205.42" y2="1317.8" stroke="#111111" stroke-width="2.7" stroke-linecap="round"/><line x1="1323.34" y1="1173.3" x2="1323.34" y2="1270.9" stroke="#111111" stroke-width="2.5"/><line x1="1311.24" y1="1173.3" x2="1335.44" y2="1173.3" stroke="#111111" stroke-width="2.7" stroke-linecap="round"/><line x1="1311.24" y1="1177.7" x2="1335.44" y2="1177.7" stroke="#111111" stroke-width="2.7" stroke-linecap="round"/><line x1="1311.24" y1="1189.4" x2="1335.44" y2="1189.4" stroke="#111111" stroke-width="2.7" stroke-linecap="round"/><line x1="1311.24" y1="1198.2" x2="1335.44" y2="1198.2" stroke="#111111" stroke-width="2.7" stroke-linecap="round"/><line x1="1311.24" y1="1215.1" x2="1335.44" y2="1215.1" stroke="#111111" stroke-width="2.7" stroke-linecap="round"/><line x1="1311.24" y1="1242.3" x2="1335.44" y2="1242.3" stroke="#111111" stroke-width="2.7" stroke-linecap="round"/><line x1="1311.24" y1="1270.9" x2="1335.44" y2="1270.9" stroke="#111111" stroke-width="2.7" stroke-linecap="round"/><line x1="1453.36" y1="1172.1" x2="1453.36" y2="1270.5" stroke="#111111" stroke-width="2.5"/><line x1="1441.26" y1="1172.1" x2="1465.46" y2="1172.1" stroke="#111111" stroke-width="2.7" stroke-linecap="round"/><line x1="1441.26" y1="1177.7" x2="1465.46" y2="1177.7" stroke="#111111" stroke-width="2.7" stroke-linecap="round"/><line x1="1441.26" y1="1189.7" x2="1465.46" y2="1189.7" stroke="#111111" stroke-width="2.7" stroke-linecap="round"/><line x1="1441.26" y1="1197.6" x2="1465.46" y2="1197.6" stroke="#111111" stroke-width="2.7" stroke-linecap="round"/><line x1="1441.26" y1="1242.3" x2="1465.46" y2="1242.3" stroke="#111111" stroke-width="2.7" stroke-linecap="round"/><line x1="1441.26" y1="1270.5" x2="1465.46" y2="1270.5" stroke="#111111" stroke-width="2.7" stroke-linecap="round"/><line x1="1441.26" y1="1224.5" x2="1465.46" y2="1224.5" stroke="#111111" stroke-width="4.6" stroke-linecap="round"/></g>
<g><circle cx="196.50" cy="1828.00" r="12.80" fill="#111111"/><circle cx="413.20" cy="1541.60" r="12.80" fill="#111111"/><circle cx="543.22" cy="1464.70" r="12.80" fill="#111111"/><circle cx="673.24" cy="1409.60" r="12.80" fill="#111111"/><circle cx="803.26" cy="1350.90" r="12.80" fill="#111111"/><circle cx="933.28" cy="1306.20" r="12.80" fill="#111111"/><circle cx="1063.30" cy="1268.10" r="12.80" fill="#111111"/><circle cx="1193.32" cy="1238.60" r="12.80" fill="#111111"/><circle cx="1323.34" cy="1210.00" r="12.80" fill="#111111"/><circle cx="1453.36" cy="1209.50" r="12.80" fill="#111111"/><circle cx="196.50" cy="1828.00" r="11.80" fill="#fff" stroke="#111111" stroke-width="2.0"/><circle cx="413.20" cy="1599.00" r="11.80" fill="#fff" stroke="#111111" stroke-width="2.0"/><circle cx="543.22" cy="1516.60" r="11.80" fill="#fff" stroke="#111111" stroke-width="2.0"/><circle cx="673.24" cy="1445.20" r="11.80" fill="#fff" stroke="#111111" stroke-width="2.0"/><circle cx="803.26" cy="1383.80" r="11.80" fill="#fff" stroke="#111111" stroke-width="2.0"/><circle cx="933.28" cy="1313.50" r="11.80" fill="#fff" stroke="#111111" stroke-width="2.0"/><circle cx="1063.30" cy="1284.20" r="11.80" fill="#fff" stroke="#111111" stroke-width="2.0"/><circle cx="1193.32" cy="1250.30" r="11.80" fill="#fff" stroke="#111111" stroke-width="2.0"/><circle cx="1323.34" cy="1207.00" r="11.80" fill="#fff" stroke="#111111" stroke-width="2.0"/><circle cx="1453.36" cy="1207.00" r="11.80" fill="#fff" stroke="#111111" stroke-width="2.0"/><polygon points="196.50,1844.30 209.70,1821.50 183.30,1821.50" fill="#111111"/><polygon points="413.20,1656.65 426.40,1633.85 400.00,1633.85" fill="#111111"/><polygon points="543.22,1591.85 556.42,1569.05 530.02,1569.05" fill="#111111"/><polygon points="673.24,1524.65 686.44,1501.85 660.04,1501.85" fill="#111111"/><polygon points="803.26,1469.90 816.46,1447.10 790.06,1447.10" fill="#111111"/><polygon points="933.28,1403.50 946.48,1380.70 920.08,1380.70" fill="#111111"/><polygon points="1063.30,1352.20 1076.50,1329.40 1050.10,1329.40" fill="#111111"/><polygon points="1193.32,1313.55 1206.52,1290.75 1180.12,1290.75" fill="#111111"/><polygon points="1323.34,1271.00 1336.54,1248.20 1310.14,1248.20" fill="#111111"/><polygon points="1453.36,1271.75 1466.56,1248.95 1440.16,1248.95" fill="#111111"/><polygon points="196.50,1814.65 207.97,1834.45 185.03,1834.45" fill="#fff" stroke="#111111" stroke-width="2.0" stroke-linejoin="miter" stroke-miterlimit="10"/><polygon points="413.20,1472.15 424.67,1491.95 401.73,1491.95" fill="#fff" stroke="#111111" stroke-width="2.0" stroke-linejoin="miter" stroke-miterlimit="10"/><polygon points="543.22,1395.95 554.69,1415.75 531.75,1415.75" fill="#fff" stroke="#111111" stroke-width="2.0" stroke-linejoin="miter" stroke-miterlimit="10"/><polygon points="673.24,1341.95 684.71,1361.75 661.77,1361.75" fill="#fff" stroke="#111111" stroke-width="2.0" stroke-linejoin="miter" stroke-miterlimit="10"/><polygon points="803.26,1277.85 814.73,1297.65 791.79,1297.65" fill="#fff" stroke="#111111" stroke-width="2.0" stroke-linejoin="miter" stroke-miterlimit="10"/><polygon points="933.28,1246.90 944.75,1266.70 921.81,1266.70" fill="#fff" stroke="#111111" stroke-width="2.0" stroke-linejoin="miter" stroke-miterlimit="10"/><polygon points="1063.30,1210.25 1074.77,1230.05 1051.83,1230.05" fill="#fff" stroke="#111111" stroke-width="2.0" stroke-linejoin="miter" stroke-miterlimit="10"/><polygon points="1193.32,1194.35 1204.79,1214.15 1181.85,1214.15" fill="#fff" stroke="#111111" stroke-width="2.0" stroke-linejoin="miter" stroke-miterlimit="10"/><polygon points="1323.34,1162.45 1334.81,1182.25 1311.87,1182.25" fill="#fff" stroke="#111111" stroke-width="2.0" stroke-linejoin="miter" stroke-miterlimit="10"/><polygon points="1453.36,1161.85 1464.83,1181.65 1441.89,1181.65" fill="#fff" stroke="#111111" stroke-width="2.0" stroke-linejoin="miter" stroke-miterlimit="10"/></g>
<path d="M196.50,1824.05 L200.70,1817.89 L204.91,1811.79 L209.11,1805.75 L213.31,1799.77 L217.52,1793.84 L221.72,1787.97 L225.92,1782.15 L230.13,1776.39 L234.33,1770.69 L238.54,1765.04 L242.74,1759.44 L246.94,1753.89 L251.15,1748.40 L255.35,1742.96 L259.55,1737.58 L263.76,1732.24 L267.96,1726.96 L272.16,1721.72 L276.37,1716.54 L280.57,1711.40 L284.77,1706.32 L288.98,1701.28 L293.18,1696.29 L297.39,1691.35 L301.59,1686.45 L305.79,1681.60 L310.00,1676.80 L314.20,1672.04 L318.40,1667.33 L322.61,1662.66 L326.81,1658.04 L331.01,1653.46 L335.22,1648.93 L339.42,1644.44 L343.62,1639.99 L347.83,1635.58 L352.03,1631.22 L356.23,1626.89 L360.44,1622.61 L364.64,1618.37 L368.85,1614.17 L373.05,1610.01 L377.25,1605.89 L381.46,1601.81 L385.66,1597.77 L389.86,1593.76 L394.07,1589.79 L398.27,1585.87 L402.47,1581.98 L406.68,1578.12 L410.88,1574.30 L415.08,1570.52 L419.29,1566.78 L423.49,1563.07 L427.69,1559.40 L431.90,1555.76 L436.10,1552.15 L440.31,1548.58 L444.51,1545.05 L448.71,1541.54 L452.92,1538.07 L457.12,1534.64 L461.32,1531.24 L465.53,1527.87 L469.73,1524.53 L473.93,1521.22 L478.14,1517.94 L482.34,1514.70 L486.54,1511.49 L490.75,1508.30 L494.95,1505.15 L499.16,1502.03 L503.36,1498.94 L507.56,1495.87 L511.77,1492.84 L515.97,1489.83 L520.17,1486.86 L524.38,1483.91 L528.58,1480.99 L532.78,1478.10 L536.99,1475.23 L541.19,1472.40 L545.39,1469.58 L549.60,1466.80 L553.80,1464.04 L558.00,1461.31 L562.21,1458.61 L566.41,1455.93 L570.62,1453.28 L574.82,1450.65 L579.02,1448.04 L583.23,1445.46 L587.43,1442.91 L591.63,1440.38 L595.84,1437.88 L600.04,1435.39 L604.24,1432.94 L608.45,1430.50 L612.65,1428.09 L616.85,1425.70 L621.06,1423.34 L625.26,1420.99 L629.47,1418.67 L633.67,1416.37 L637.87,1414.10 L642.08,1411.84 L646.28,1409.61 L650.48,1407.39 L654.69,1405.20 L658.89,1403.03 L663.09,1400.88 L667.30,1398.75 L671.50,1396.64 L675.70,1394.55 L679.91,1392.48 L684.11,1390.44 L688.31,1388.41 L692.52,1386.39 L696.72,1384.40 L700.93,1382.43 L705.13,1380.48 L709.33,1378.54 L713.54,1376.63 L717.74,1374.73 L721.94,1372.85 L726.15,1370.98 L730.35,1369.14 L734.55,1367.31 L738.76,1365.50 L742.96,1363.71 L747.16,1361.93 L751.37,1360.18 L755.57,1358.43 L759.78,1356.71 L763.98,1355.00 L768.18,1353.31 L772.39,1351.63 L776.59,1349.97 L780.79,1348.33 L785.00,1346.70 L789.20,1345.08 L793.40,1343.49 L797.61,1341.90 L801.81,1340.33 L806.01,1338.78 L810.22,1337.24 L814.42,1335.72 L818.62,1334.21 L822.83,1332.72 L827.03,1331.24 L831.24,1329.77 L835.44,1328.32 L839.64,1326.88 L843.85,1325.45 L848.05,1324.04 L852.25,1322.65 L856.46,1321.26 L860.66,1319.89 L864.86,1318.53 L869.07,1317.19 L873.27,1315.85 L877.47,1314.53 L881.68,1313.23 L885.88,1311.93 L890.08,1310.65 L894.29,1309.38 L898.49,1308.12 L902.70,1306.88 L906.90,1305.64 L911.10,1304.42 L915.31,1303.21 L919.51,1302.01 L923.71,1300.82 L927.92,1299.64 L932.12,1298.48 L936.32,1297.32 L940.53,1296.18 L944.73,1295.05 L948.93,1293.93 L953.14,1292.82 L957.34,1291.72 L961.55,1290.63 L965.75,1289.55 L969.95,1288.48 L974.16,1287.42 L978.36,1286.37 L982.56,1285.33 L986.77,1284.30 L990.97,1283.28 L995.17,1282.27 L999.38,1281.27 L1003.58,1280.28 L1007.78,1279.30 L1011.99,1278.33 L1016.19,1277.37 L1020.39,1276.41 L1024.60,1275.47 L1028.80,1274.53 L1033.01,1273.61 L1037.21,1272.69 L1041.41,1271.78 L1045.62,1270.88 L1049.82,1269.99 L1054.02,1269.11 L1058.23,1268.23 L1062.43,1267.37 L1066.63,1266.51 L1070.84,1265.66 L1075.04,1264.82 L1079.24,1263.98 L1083.45,1263.16 L1087.65,1262.34 L1091.86,1261.53 L1096.06,1260.73 L1100.26,1259.93 L1104.47,1259.14 L1108.67,1258.37 L1112.87,1257.59 L1117.08,1256.83 L1121.28,1256.07 L1125.48,1255.32 L1129.69,1254.58 L1133.89,1253.84 L1138.09,1253.11 L1142.30,1252.39 L1146.50,1251.67 L1150.70,1250.96 L1154.91,1250.26 L1159.11,1249.57 L1163.32,1248.88 L1167.52,1248.20 L1171.72,1247.52 L1175.93,1246.85 L1180.13,1246.19 L1184.33,1245.53 L1188.54,1244.88 L1192.74,1244.24 L1196.94,1243.60 L1201.15,1242.97 L1205.35,1242.34 L1209.55,1241.72 L1213.76,1241.11 L1217.96,1240.50 L1222.17,1239.90 L1226.37,1239.30 L1230.57,1238.71 L1234.78,1238.13 L1238.98,1237.55 L1243.18,1236.97 L1247.39,1236.41 L1251.59,1235.84 L1255.79,1235.28 L1260.00,1234.73 L1264.20,1234.19 L1268.40,1233.64 L1272.61,1233.11 L1276.81,1232.57 L1281.01,1232.05 L1285.22,1231.53 L1289.42,1231.01 L1293.63,1230.50 L1297.83,1229.99 L1302.03,1229.49 L1306.24,1228.99 L1310.44,1228.50 L1314.64,1228.01 L1318.85,1227.53 L1323.05,1227.05 L1327.25,1226.57 L1331.46,1226.11 L1335.66,1225.64 L1339.86,1225.18 L1344.07,1224.72 L1348.27,1224.27 L1352.47,1223.82 L1356.68,1223.38 L1360.88,1222.94 L1365.09,1222.51 L1369.29,1222.08 L1373.49,1221.65 L1377.70,1221.23 L1381.90,1220.81 L1386.10,1220.39 L1390.31,1219.98 L1394.51,1219.58 L1398.71,1219.17 L1402.92,1218.77 L1407.12,1218.38 L1411.32,1217.99 L1415.53,1217.60 L1419.73,1217.21 L1423.94,1216.83 L1428.14,1216.46 L1432.34,1216.08 L1436.55,1215.71 L1440.75,1215.35 L1444.95,1214.99 L1449.16,1214.63 L1453.36,1214.27" fill="none" stroke="#111111" stroke-width="4.4" stroke-linecap="round" stroke-linejoin="round"/>
<path d="M196.50,1822.59 L200.70,1817.77 L204.91,1812.98 L209.11,1808.23 L213.31,1803.50 L217.52,1798.81 L221.72,1794.14 L225.92,1789.51 L230.13,1784.91 L234.33,1780.34 L238.54,1775.80 L242.74,1771.29 L246.94,1766.82 L251.15,1762.37 L255.35,1757.95 L259.55,1753.56 L263.76,1749.20 L267.96,1744.87 L272.16,1740.56 L276.37,1736.29 L280.57,1732.04 L284.77,1727.83 L288.98,1723.64 L293.18,1719.48 L297.39,1715.34 L301.59,1711.24 L305.79,1707.16 L310.00,1703.11 L314.20,1699.09 L318.40,1695.09 L322.61,1691.12 L326.81,1687.17 L331.01,1683.26 L335.22,1679.36 L339.42,1675.50 L343.62,1671.66 L347.83,1667.85 L352.03,1664.06 L356.23,1660.29 L360.44,1656.56 L364.64,1652.84 L368.85,1649.15 L373.05,1645.49 L377.25,1641.85 L381.46,1638.23 L385.66,1634.64 L389.86,1631.08 L394.07,1627.53 L398.27,1624.01 L402.47,1620.52 L406.68,1617.04 L410.88,1613.59 L415.08,1610.17 L419.29,1606.76 L423.49,1603.38 L427.69,1600.02 L431.90,1596.69 L436.10,1593.37 L440.31,1590.08 L444.51,1586.81 L448.71,1583.56 L452.92,1580.34 L457.12,1577.13 L461.32,1573.95 L465.53,1570.79 L469.73,1567.65 L473.93,1564.53 L478.14,1561.43 L482.34,1558.35 L486.54,1555.29 L490.75,1552.25 L494.95,1549.24 L499.16,1546.24 L503.36,1543.26 L507.56,1540.30 L511.77,1537.37 L515.97,1534.45 L520.17,1531.55 L524.38,1528.67 L528.58,1525.81 L532.78,1522.97 L536.99,1520.15 L541.19,1517.34 L545.39,1514.56 L549.60,1511.79 L553.80,1509.05 L558.00,1506.32 L562.21,1503.61 L566.41,1500.91 L570.62,1498.24 L574.82,1495.58 L579.02,1492.94 L583.23,1490.32 L587.43,1487.72 L591.63,1485.13 L595.84,1482.56 L600.04,1480.01 L604.24,1477.47 L608.45,1474.95 L612.65,1472.45 L616.85,1469.97 L621.06,1467.50 L625.26,1465.05 L629.47,1462.61 L633.67,1460.19 L637.87,1457.79 L642.08,1455.40 L646.28,1453.03 L650.48,1450.67 L654.69,1448.34 L658.89,1446.01 L663.09,1443.70 L667.30,1441.41 L671.50,1439.13 L675.70,1436.87 L679.91,1434.62 L684.11,1432.39 L688.31,1430.17 L692.52,1427.97 L696.72,1425.78 L700.93,1423.61 L705.13,1421.45 L709.33,1419.30 L713.54,1417.17 L717.74,1415.06 L721.94,1412.95 L726.15,1410.87 L730.35,1408.79 L734.55,1406.73 L738.76,1404.69 L742.96,1402.65 L747.16,1400.63 L751.37,1398.63 L755.57,1396.64 L759.78,1394.66 L763.98,1392.69 L768.18,1390.74 L772.39,1388.80 L776.59,1386.87 L780.79,1384.96 L785.00,1383.06 L789.20,1381.17 L793.40,1379.29 L797.61,1377.43 L801.81,1375.58 L806.01,1373.74 L810.22,1371.91 L814.42,1370.10 L818.62,1368.30 L822.83,1366.51 L827.03,1364.73 L831.24,1362.96 L835.44,1361.21 L839.64,1359.46 L843.85,1357.73 L848.05,1356.01 L852.25,1354.31 L856.46,1352.61 L860.66,1350.92 L864.86,1349.25 L869.07,1347.59 L873.27,1345.93 L877.47,1344.29 L881.68,1342.66 L885.88,1341.05 L890.08,1339.44 L894.29,1337.84 L898.49,1336.25 L902.70,1334.68 L906.90,1333.11 L911.10,1331.56 L915.31,1330.01 L919.51,1328.48 L923.71,1326.95 L927.92,1325.44 L932.12,1323.93 L936.32,1322.44 L940.53,1320.96 L944.73,1319.48 L948.93,1318.02 L953.14,1316.56 L957.34,1315.12 L961.55,1313.68 L965.75,1312.26 L969.95,1310.84 L974.16,1309.43 L978.36,1308.04 L982.56,1306.65 L986.77,1305.27 L990.97,1303.90 L995.17,1302.54 L999.38,1301.19 L1003.58,1299.85 L1007.78,1298.51 L1011.99,1297.19 L1016.19,1295.87 L1020.39,1294.57 L1024.60,1293.27 L1028.80,1291.98 L1033.01,1290.70 L1037.21,1289.43 L1041.41,1288.16 L1045.62,1286.91 L1049.82,1285.66 L1054.02,1284.42 L1058.23,1283.19 L1062.43,1281.97 L1066.63,1280.75 L1070.84,1279.55 L1075.04,1278.35 L1079.24,1277.16 L1083.45,1275.98 L1087.65,1274.80 L1091.86,1273.64 L1096.06,1272.48 L1100.26,1271.33 L1104.47,1270.19 L1108.67,1269.05 L1112.87,1267.92 L1117.08,1266.80 L1121.28,1265.69 L1125.48,1264.58 L1129.69,1263.49 L1133.89,1262.40 L1138.09,1261.31 L1142.30,1260.24 L1146.50,1259.17 L1150.70,1258.10 L1154.91,1257.05 L1159.11,1256.00 L1163.32,1254.96 L1167.52,1253.93 L1171.72,1252.90 L1175.93,1251.88 L1180.13,1250.87 L1184.33,1249.86 L1188.54,1248.86 L1192.74,1247.87 L1196.94,1246.88 L1201.15,1245.90 L1205.35,1244.93 L1209.55,1243.96 L1213.76,1243.00 L1217.96,1242.05 L1222.17,1241.10 L1226.37,1240.16 L1230.57,1239.22 L1234.78,1238.29 L1238.98,1237.37 L1243.18,1236.45 L1247.39,1235.54 L1251.59,1234.64 L1255.79,1233.74 L1260.00,1232.85 L1264.20,1231.96 L1268.40,1231.08 L1272.61,1230.21 L1276.81,1229.34 L1281.01,1228.48 L1285.22,1227.62 L1289.42,1226.77 L1293.63,1225.92 L1297.83,1225.08 L1302.03,1224.25 L1306.24,1223.42 L1310.44,1222.60 L1314.64,1221.78 L1318.85,1220.97 L1323.05,1220.16 L1327.25,1219.36 L1331.46,1218.56 L1335.66,1217.77 L1339.86,1216.98 L1344.07,1216.20 L1348.27,1215.43 L1352.47,1214.66 L1356.68,1213.89 L1360.88,1213.13 L1365.09,1212.38 L1369.29,1211.63 L1373.49,1210.88 L1377.70,1210.14 L1381.90,1209.41 L1386.10,1208.68 L1390.31,1207.95 L1394.51,1207.23 L1398.71,1206.52 L1402.92,1205.81 L1407.12,1205.10 L1411.32,1204.40 L1415.53,1203.70 L1419.73,1203.01 L1423.94,1202.33 L1428.14,1201.64 L1432.34,1200.96 L1436.55,1200.29 L1440.75,1199.62 L1444.95,1198.96 L1449.16,1198.30 L1453.36,1197.64" fill="none" stroke="#dc2a1a" stroke-width="4.4" stroke-linecap="round" stroke-linejoin="round"/>
<path d="M196.50,1820.92 L200.70,1817.30 L204.91,1813.69 L209.11,1810.09 L213.31,1806.52 L217.52,1802.96 L221.72,1799.42 L225.92,1795.89 L230.13,1792.38 L234.33,1788.89 L238.54,1785.42 L242.74,1781.96 L246.94,1778.52 L251.15,1775.09 L255.35,1771.68 L259.55,1768.29 L263.76,1764.91 L267.96,1761.55 L272.16,1758.20 L276.37,1754.87 L280.57,1751.56 L284.77,1748.26 L288.98,1744.98 L293.18,1741.71 L297.39,1738.46 L301.59,1735.22 L305.79,1732.00 L310.00,1728.80 L314.20,1725.61 L318.40,1722.43 L322.61,1719.27 L326.81,1716.13 L331.01,1712.99 L335.22,1709.88 L339.42,1706.78 L343.62,1703.69 L347.83,1700.62 L352.03,1697.57 L356.23,1694.52 L360.44,1691.50 L364.64,1688.48 L368.85,1685.48 L373.05,1682.50 L377.25,1679.53 L381.46,1676.57 L385.66,1673.63 L389.86,1670.70 L394.07,1667.78 L398.27,1664.88 L402.47,1662.00 L406.68,1659.12 L410.88,1656.26 L415.08,1653.42 L419.29,1650.58 L423.49,1647.77 L427.69,1644.96 L431.90,1642.17 L436.10,1639.39 L440.31,1636.62 L444.51,1633.87 L448.71,1631.13 L452.92,1628.40 L457.12,1625.69 L461.32,1622.99 L465.53,1620.30 L469.73,1617.62 L473.93,1614.96 L478.14,1612.31 L482.34,1609.67 L486.54,1607.05 L490.75,1604.43 L494.95,1601.83 L499.16,1599.24 L503.36,1596.67 L507.56,1594.10 L511.77,1591.55 L515.97,1589.01 L520.17,1586.49 L524.38,1583.97 L528.58,1581.47 L532.78,1578.98 L536.99,1576.50 L541.19,1574.03 L545.39,1571.57 L549.60,1569.13 L553.80,1566.69 L558.00,1564.27 L562.21,1561.86 L566.41,1559.46 L570.62,1557.08 L574.82,1554.70 L579.02,1552.34 L583.23,1549.98 L587.43,1547.64 L591.63,1545.31 L595.84,1542.99 L600.04,1540.68 L604.24,1538.38 L608.45,1536.10 L612.65,1533.82 L616.85,1531.55 L621.06,1529.30 L625.26,1527.06 L629.47,1524.82 L633.67,1522.60 L637.87,1520.39 L642.08,1518.19 L646.28,1515.99 L650.48,1513.81 L654.69,1511.64 L658.89,1509.48 L663.09,1507.33 L667.30,1505.19 L671.50,1503.06 L675.70,1500.94 L679.91,1498.83 L684.11,1496.73 L688.31,1494.64 L692.52,1492.56 L696.72,1490.49 L700.93,1488.43 L705.13,1486.38 L709.33,1484.34 L713.54,1482.31 L717.74,1480.29 L721.94,1478.28 L726.15,1476.28 L730.35,1474.29 L734.55,1472.30 L738.76,1470.33 L742.96,1468.36 L747.16,1466.41 L751.37,1464.46 L755.57,1462.53 L759.78,1460.60 L763.98,1458.68 L768.18,1456.77 L772.39,1454.87 L776.59,1452.98 L780.79,1451.10 L785.00,1449.23 L789.20,1447.36 L793.40,1445.51 L797.61,1443.66 L801.81,1441.82 L806.01,1439.99 L810.22,1438.17 L814.42,1436.36 L818.62,1434.56 L822.83,1432.76 L827.03,1430.98 L831.24,1429.20 L835.44,1427.43 L839.64,1425.67 L843.85,1423.91 L848.05,1422.17 L852.25,1420.43 L856.46,1418.71 L860.66,1416.99 L864.86,1415.28 L869.07,1413.57 L873.27,1411.88 L877.47,1410.19 L881.68,1408.51 L885.88,1406.84 L890.08,1405.18 L894.29,1403.52 L898.49,1401.87 L902.70,1400.23 L906.90,1398.60 L911.10,1396.98 L915.31,1395.36 L919.51,1393.75 L923.71,1392.15 L927.92,1390.56 L932.12,1388.97 L936.32,1387.39 L940.53,1385.82 L944.73,1384.26 L948.93,1382.70 L953.14,1381.15 L957.34,1379.61 L961.55,1378.08 L965.75,1376.55 L969.95,1375.03 L974.16,1373.52 L978.36,1372.01 L982.56,1370.52 L986.77,1369.03 L990.97,1367.54 L995.17,1366.06 L999.38,1364.59 L1003.58,1363.13 L1007.78,1361.68 L1011.99,1360.23 L1016.19,1358.78 L1020.39,1357.35 L1024.60,1355.92 L1028.80,1354.50 L1033.01,1353.08 L1037.21,1351.68 L1041.41,1350.27 L1045.62,1348.88 L1049.82,1347.49 L1054.02,1346.11 L1058.23,1344.73 L1062.43,1343.37 L1066.63,1342.00 L1070.84,1340.65 L1075.04,1339.30 L1079.24,1337.95 L1083.45,1336.62 L1087.65,1335.29 L1091.86,1333.96 L1096.06,1332.65 L1100.26,1331.34 L1104.47,1330.03 L1108.67,1328.73 L1112.87,1327.44 L1117.08,1326.15 L1121.28,1324.87 L1125.48,1323.60 L1129.69,1322.33 L1133.89,1321.07 L1138.09,1319.81 L1142.30,1318.56 L1146.50,1317.31 L1150.70,1316.08 L1154.91,1314.84 L1159.11,1313.62 L1163.32,1312.39 L1167.52,1311.18 L1171.72,1309.97 L1175.93,1308.77 L1180.13,1307.57 L1184.33,1306.38 L1188.54,1305.19 L1192.74,1304.01 L1196.94,1302.83 L1201.15,1301.66 L1205.35,1300.50 L1209.55,1299.34 L1213.76,1298.19 L1217.96,1297.04 L1222.17,1295.90 L1226.37,1294.76 L1230.57,1293.63 L1234.78,1292.50 L1238.98,1291.38 L1243.18,1290.26 L1247.39,1289.15 L1251.59,1288.05 L1255.79,1286.95 L1260.00,1285.85 L1264.20,1284.76 L1268.40,1283.68 L1272.61,1282.60 L1276.81,1281.53 L1281.01,1280.46 L1285.22,1279.39 L1289.42,1278.34 L1293.63,1277.28 L1297.83,1276.23 L1302.03,1275.19 L1306.24,1274.15 L1310.44,1273.12 L1314.64,1272.09 L1318.85,1271.06 L1323.05,1270.04 L1327.25,1269.03 L1331.46,1268.02 L1335.66,1267.02 L1339.86,1266.02 L1344.07,1265.02 L1348.27,1264.03 L1352.47,1263.04 L1356.68,1262.06 L1360.88,1261.09 L1365.09,1260.11 L1369.29,1259.15 L1373.49,1258.18 L1377.70,1257.23 L1381.90,1256.27 L1386.10,1255.32 L1390.31,1254.38 L1394.51,1253.44 L1398.71,1252.50 L1402.92,1251.57 L1407.12,1250.64 L1411.32,1249.72 L1415.53,1248.80 L1419.73,1247.89 L1423.94,1246.98 L1428.14,1246.08 L1432.34,1245.17 L1436.55,1244.28 L1440.75,1243.39 L1444.95,1242.50 L1449.16,1241.61 L1453.36,1240.73" fill="none" stroke="#00a651" stroke-width="4.4" stroke-linecap="round" stroke-linejoin="round"/>
<path d="M196.50,1820.02 L200.70,1812.26 L204.91,1804.58 L209.11,1796.99 L213.31,1789.50 L217.52,1782.09 L221.72,1774.78 L225.92,1767.54 L230.13,1760.40 L234.33,1753.34 L238.54,1746.36 L242.74,1739.46 L246.94,1732.65 L251.15,1725.92 L255.35,1719.27 L259.55,1712.69 L263.76,1706.20 L267.96,1699.78 L272.16,1693.44 L276.37,1687.17 L280.57,1680.97 L284.77,1674.85 L288.98,1668.81 L293.18,1662.83 L297.39,1656.93 L301.59,1651.09 L305.79,1645.33 L310.00,1639.63 L314.20,1634.00 L318.40,1628.44 L322.61,1622.94 L326.81,1617.51 L331.01,1612.14 L335.22,1606.84 L339.42,1601.59 L343.62,1596.42 L347.83,1591.30 L352.03,1586.24 L356.23,1581.24 L360.44,1576.31 L364.64,1571.43 L368.85,1566.60 L373.05,1561.84 L377.25,1557.13 L381.46,1552.48 L385.66,1547.88 L389.86,1543.34 L394.07,1538.85 L398.27,1534.42 L402.47,1530.03 L406.68,1525.70 L410.88,1521.42 L415.08,1517.20 L419.29,1513.02 L423.49,1508.89 L427.69,1504.81 L431.90,1500.78 L436.10,1496.79 L440.31,1492.85 L444.51,1488.96 L448.71,1485.12 L452.92,1481.32 L457.12,1477.57 L461.32,1473.86 L465.53,1470.19 L469.73,1466.57 L473.93,1462.99 L478.14,1459.46 L482.34,1455.96 L486.54,1452.51 L490.75,1449.10 L494.95,1445.73 L499.16,1442.40 L503.36,1439.10 L507.56,1435.85 L511.77,1432.64 L515.97,1429.46 L520.17,1426.32 L524.38,1423.22 L528.58,1420.15 L532.78,1417.13 L536.99,1414.13 L541.19,1411.18 L545.39,1408.25 L549.60,1405.37 L553.80,1402.51 L558.00,1399.69 L562.21,1396.91 L566.41,1394.15 L570.62,1391.43 L574.82,1388.75 L579.02,1386.09 L583.23,1383.47 L587.43,1380.87 L591.63,1378.31 L595.84,1375.78 L600.04,1373.27 L604.24,1370.80 L608.45,1368.36 L612.65,1365.94 L616.85,1363.56 L621.06,1361.20 L625.26,1358.87 L629.47,1356.57 L633.67,1354.29 L637.87,1352.04 L642.08,1349.82 L646.28,1347.63 L650.48,1345.46 L654.69,1343.32 L658.89,1341.20 L663.09,1339.11 L667.30,1337.04 L671.50,1334.99 L675.70,1332.98 L679.91,1330.98 L684.11,1329.01 L688.31,1327.06 L692.52,1325.14 L696.72,1323.23 L700.93,1321.35 L705.13,1319.50 L709.33,1317.66 L713.54,1315.85 L717.74,1314.05 L721.94,1312.28 L726.15,1310.53 L730.35,1308.80 L734.55,1307.10 L738.76,1305.41 L742.96,1303.74 L747.16,1302.09 L751.37,1300.46 L755.57,1298.85 L759.78,1297.26 L763.98,1295.69 L768.18,1294.13 L772.39,1292.60 L776.59,1291.08 L780.79,1289.58 L785.00,1288.10 L789.20,1286.64 L793.40,1285.19 L797.61,1283.77 L801.81,1282.35 L806.01,1280.96 L810.22,1279.58 L814.42,1278.22 L818.62,1276.87 L822.83,1275.54 L827.03,1274.23 L831.24,1272.93 L835.44,1271.64 L839.64,1270.38 L843.85,1269.12 L848.05,1267.88 L852.25,1266.66 L856.46,1265.45 L860.66,1264.26 L864.86,1263.08 L869.07,1261.91 L873.27,1260.76 L877.47,1259.62 L881.68,1258.49 L885.88,1257.38 L890.08,1256.28 L894.29,1255.19 L898.49,1254.12 L902.70,1253.06 L906.90,1252.01 L911.10,1250.98 L915.31,1249.95 L919.51,1248.94 L923.71,1247.94 L927.92,1246.95 L932.12,1245.98 L936.32,1245.01 L940.53,1244.06 L944.73,1243.12 L948.93,1242.19 L953.14,1241.27 L957.34,1240.36 L961.55,1239.47 L965.75,1238.58 L969.95,1237.70 L974.16,1236.84 L978.36,1235.98 L982.56,1235.13 L986.77,1234.30 L990.97,1233.47 L995.17,1232.66 L999.38,1231.85 L1003.58,1231.05 L1007.78,1230.27 L1011.99,1229.49 L1016.19,1228.72 L1020.39,1227.96 L1024.60,1227.21 L1028.80,1226.47 L1033.01,1225.74 L1037.21,1225.01 L1041.41,1224.30 L1045.62,1223.59 L1049.82,1222.89 L1054.02,1222.20 L1058.23,1221.52 L1062.43,1220.84 L1066.63,1220.18 L1070.84,1219.52 L1075.04,1218.87 L1079.24,1218.23 L1083.45,1217.59 L1087.65,1216.96 L1091.86,1216.34 L1096.06,1215.73 L1100.26,1215.12 L1104.47,1214.53 L1108.67,1213.93 L1112.87,1213.35 L1117.08,1212.77 L1121.28,1212.20 L1125.48,1211.64 L1129.69,1211.08 L1133.89,1210.53 L1138.09,1209.99 L1142.30,1209.45 L1146.50,1208.92 L1150.70,1208.39 L1154.91,1207.88 L1159.11,1207.36 L1163.32,1206.86 L1167.52,1206.36 L1171.72,1205.86 L1175.93,1205.37 L1180.13,1204.89 L1184.33,1204.41 L1188.54,1203.94 L1192.74,1203.48 L1196.94,1203.02 L1201.15,1202.56 L1205.35,1202.11 L1209.55,1201.67 L1213.76,1201.23 L1217.96,1200.79 L1222.17,1200.37 L1226.37,1199.94 L1230.57,1199.52 L1234.78,1199.11 L1238.98,1198.70 L1243.18,1198.30 L1247.39,1197.90 L1251.59,1197.50 L1255.79,1197.12 L1260.00,1196.73 L1264.20,1196.35 L1268.40,1195.97 L1272.61,1195.60 L1276.81,1195.24 L1281.01,1194.87 L1285.22,1194.51 L1289.42,1194.16 L1293.63,1193.81 L1297.83,1193.46 L1302.03,1193.12 L1306.24,1192.79 L1310.44,1192.45 L1314.64,1192.12 L1318.85,1191.80 L1323.05,1191.47 L1327.25,1191.16 L1331.46,1190.84 L1335.66,1190.53 L1339.86,1190.22 L1344.07,1189.92 L1348.27,1189.62 L1352.47,1189.33 L1356.68,1189.03 L1360.88,1188.74 L1365.09,1188.46 L1369.29,1188.18 L1373.49,1187.90 L1377.70,1187.62 L1381.90,1187.35 L1386.10,1187.08 L1390.31,1186.81 L1394.51,1186.55 L1398.71,1186.29 L1402.92,1186.03 L1407.12,1185.78 L1411.32,1185.53 L1415.53,1185.28 L1419.73,1185.04 L1423.94,1184.80 L1428.14,1184.56 L1432.34,1184.32 L1436.55,1184.09 L1440.75,1183.86 L1444.95,1183.63 L1449.16,1183.40 L1453.36,1183.18" fill="none" stroke="#0d6fba" stroke-width="4.4" stroke-linecap="round" stroke-linejoin="round"/>
</svg>
</body></html>
